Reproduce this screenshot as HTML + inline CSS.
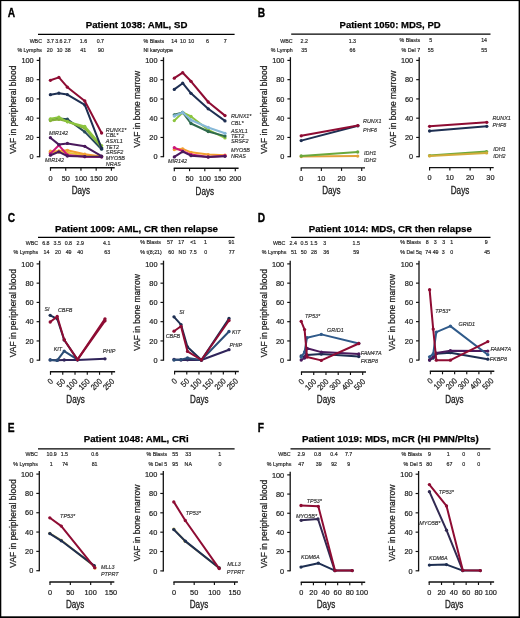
<!DOCTYPE html><html><head><meta charset="utf-8"><style>html,body{margin:0;padding:0;background:#fff;}svg{display:block;filter:blur(0.3px);}text{font-family:"Liberation Sans",sans-serif;}</style></head><body>
<svg width="520" height="618" viewBox="0 0 520 618">
<rect x="0" y="0" width="520" height="618" fill="#000"/>
<rect x="1.3" y="1.1" width="517.3" height="615.2" fill="#fff"/>
<text x="7.8" y="16.6" font-size="12" font-weight="bold" fill="#000" stroke="#000" stroke-width="0.35" textLength="7.37" lengthAdjust="spacingAndGlyphs">A</text>
<text x="136.6" y="27.7" font-size="9.9" text-anchor="middle" font-weight="bold" fill="#000" stroke="#000" stroke-width="0.25" textLength="101.6" lengthAdjust="spacingAndGlyphs">Patient 1038: AML, SD</text>
<line x1="38" y1="34.3" x2="234.6" y2="34.3" stroke="#000" stroke-width="1.2"/>
<text x="257.8" y="16.8" font-size="12" font-weight="bold" fill="#000" stroke="#000" stroke-width="0.35" textLength="7.37" lengthAdjust="spacingAndGlyphs">B</text>
<text x="390.1" y="27.6" font-size="9.9" text-anchor="middle" font-weight="bold" fill="#000" stroke="#000" stroke-width="0.25" textLength="101.1" lengthAdjust="spacingAndGlyphs">Patient 1050: MDS, PD</text>
<line x1="291.2" y1="34.2" x2="490.5" y2="34.2" stroke="#000" stroke-width="1.2"/>
<text x="7.8" y="221.7" font-size="12" font-weight="bold" fill="#000" stroke="#000" stroke-width="0.35" textLength="7.37" lengthAdjust="spacingAndGlyphs">C</text>
<text x="136.5" y="232.4" font-size="9.9" text-anchor="middle" font-weight="bold" fill="#000" stroke="#000" stroke-width="0.25" textLength="163" lengthAdjust="spacingAndGlyphs">Patient 1009: AML, CR then relapse</text>
<line x1="38" y1="237.4" x2="234.6" y2="237.4" stroke="#000" stroke-width="1.2"/>
<text x="257.8" y="221.7" font-size="12" font-weight="bold" fill="#000" stroke="#000" stroke-width="0.35" textLength="7.37" lengthAdjust="spacingAndGlyphs">D</text>
<text x="390.3" y="232.4" font-size="9.9" text-anchor="middle" font-weight="bold" fill="#000" stroke="#000" stroke-width="0.25" textLength="163.1" lengthAdjust="spacingAndGlyphs">Patient 1014: MDS, CR then relapse</text>
<line x1="291.2" y1="237.4" x2="490.5" y2="237.4" stroke="#000" stroke-width="1.2"/>
<text x="7.8" y="432" font-size="12" font-weight="bold" fill="#000" stroke="#000" stroke-width="0.35" textLength="6.8" lengthAdjust="spacingAndGlyphs">E</text>
<text x="136.2" y="441.9" font-size="9.9" text-anchor="middle" font-weight="bold" fill="#000" stroke="#000" stroke-width="0.25" textLength="104.8" lengthAdjust="spacingAndGlyphs">Patient 1048: AML, CRi</text>
<line x1="38" y1="448.8" x2="234.6" y2="448.8" stroke="#000" stroke-width="1.2"/>
<text x="257.8" y="432" font-size="12" font-weight="bold" fill="#000" stroke="#000" stroke-width="0.35" textLength="6.23" lengthAdjust="spacingAndGlyphs">F</text>
<text x="390.4" y="441.9" font-size="9.9" text-anchor="middle" font-weight="bold" fill="#000" stroke="#000" stroke-width="0.25" textLength="176.7" lengthAdjust="spacingAndGlyphs">Patient 1019: MDS, mCR (HI PMN/Plts)</text>
<line x1="290.5" y1="448.8" x2="490.5" y2="448.8" stroke="#000" stroke-width="1.2"/>
<text x="42" y="42.5" font-size="5.75" text-anchor="end" fill="#2a2a2a" stroke="#2a2a2a" stroke-width="0.2" textLength="12.36" lengthAdjust="spacingAndGlyphs">WBC</text>
<text x="42" y="51.6" font-size="5.75" text-anchor="end" fill="#2a2a2a" stroke="#2a2a2a" stroke-width="0.2" textLength="24.55" lengthAdjust="spacingAndGlyphs">% Lymphs</text>
<text x="50.4" y="42.5" font-size="5.75" text-anchor="middle" fill="#2a2a2a" stroke="#2a2a2a" stroke-width="0.2" textLength="7.37" lengthAdjust="spacingAndGlyphs">3.7</text>
<text x="58.9" y="42.5" font-size="5.75" text-anchor="middle" fill="#2a2a2a" stroke="#2a2a2a" stroke-width="0.2" textLength="7.37" lengthAdjust="spacingAndGlyphs">3.6</text>
<text x="67.4" y="42.5" font-size="5.75" text-anchor="middle" fill="#2a2a2a" stroke="#2a2a2a" stroke-width="0.2" textLength="7.37" lengthAdjust="spacingAndGlyphs">2.7</text>
<text x="83.5" y="42.5" font-size="5.75" text-anchor="middle" fill="#2a2a2a" stroke="#2a2a2a" stroke-width="0.2" textLength="7.37" lengthAdjust="spacingAndGlyphs">1.6</text>
<text x="100.4" y="42.5" font-size="5.75" text-anchor="middle" fill="#2a2a2a" stroke="#2a2a2a" stroke-width="0.2" textLength="7.37" lengthAdjust="spacingAndGlyphs">0.7</text>
<text x="49.8" y="51.6" font-size="5.75" text-anchor="middle" fill="#2a2a2a" stroke="#2a2a2a" stroke-width="0.2" textLength="5.9" lengthAdjust="spacingAndGlyphs">20</text>
<text x="59.6" y="51.6" font-size="5.75" text-anchor="middle" fill="#2a2a2a" stroke="#2a2a2a" stroke-width="0.2" textLength="5.9" lengthAdjust="spacingAndGlyphs">10</text>
<text x="67.8" y="51.6" font-size="5.75" text-anchor="middle" fill="#2a2a2a" stroke="#2a2a2a" stroke-width="0.2" textLength="5.9" lengthAdjust="spacingAndGlyphs">38</text>
<text x="83.2" y="51.6" font-size="5.75" text-anchor="middle" fill="#2a2a2a" stroke="#2a2a2a" stroke-width="0.2" textLength="5.9" lengthAdjust="spacingAndGlyphs">41</text>
<text x="101" y="51.6" font-size="5.75" text-anchor="middle" fill="#2a2a2a" stroke="#2a2a2a" stroke-width="0.2" textLength="5.9" lengthAdjust="spacingAndGlyphs">90</text>
<text x="143.5" y="42.5" font-size="5.75" fill="#2a2a2a" stroke="#2a2a2a" stroke-width="0.2" textLength="20.62" lengthAdjust="spacingAndGlyphs">% Blasts</text>
<text x="143.5" y="51.7" font-size="5.75" fill="#2a2a2a" stroke="#2a2a2a" stroke-width="0.2" textLength="29.46" lengthAdjust="spacingAndGlyphs">Nl karyotype</text>
<text x="174.3" y="42.5" font-size="5.75" text-anchor="middle" fill="#2a2a2a" stroke="#2a2a2a" stroke-width="0.2" textLength="5.9" lengthAdjust="spacingAndGlyphs">14</text>
<text x="182.9" y="42.5" font-size="5.75" text-anchor="middle" fill="#2a2a2a" stroke="#2a2a2a" stroke-width="0.2" textLength="5.9" lengthAdjust="spacingAndGlyphs">10</text>
<text x="191.2" y="42.5" font-size="5.75" text-anchor="middle" fill="#2a2a2a" stroke="#2a2a2a" stroke-width="0.2" textLength="5.9" lengthAdjust="spacingAndGlyphs">10</text>
<text x="207.4" y="42.5" font-size="5.75" text-anchor="middle" fill="#2a2a2a" stroke="#2a2a2a" stroke-width="0.2" textLength="2.95" lengthAdjust="spacingAndGlyphs">6</text>
<text x="225.1" y="42.5" font-size="5.75" text-anchor="middle" fill="#2a2a2a" stroke="#2a2a2a" stroke-width="0.2" textLength="2.95" lengthAdjust="spacingAndGlyphs">7</text>
<text x="292.7" y="42.5" font-size="5.75" text-anchor="end" fill="#2a2a2a" stroke="#2a2a2a" stroke-width="0.2" textLength="12.36" lengthAdjust="spacingAndGlyphs">WBC</text>
<text x="292.7" y="51.9" font-size="5.75" text-anchor="end" fill="#2a2a2a" stroke="#2a2a2a" stroke-width="0.2" textLength="21.9" lengthAdjust="spacingAndGlyphs">% Lymph</text>
<text x="304.2" y="42.5" font-size="5.75" text-anchor="middle" fill="#2a2a2a" stroke="#2a2a2a" stroke-width="0.2" textLength="7.37" lengthAdjust="spacingAndGlyphs">2.2</text>
<text x="352.4" y="42.5" font-size="5.75" text-anchor="middle" fill="#2a2a2a" stroke="#2a2a2a" stroke-width="0.2" textLength="7.37" lengthAdjust="spacingAndGlyphs">1.3</text>
<text x="304.2" y="51.9" font-size="5.75" text-anchor="middle" fill="#2a2a2a" stroke="#2a2a2a" stroke-width="0.2" textLength="5.9" lengthAdjust="spacingAndGlyphs">35</text>
<text x="352.4" y="51.9" font-size="5.75" text-anchor="middle" fill="#2a2a2a" stroke="#2a2a2a" stroke-width="0.2" textLength="5.9" lengthAdjust="spacingAndGlyphs">66</text>
<text x="420.1" y="42.3" font-size="5.75" text-anchor="end" fill="#2a2a2a" stroke="#2a2a2a" stroke-width="0.2" textLength="20.62" lengthAdjust="spacingAndGlyphs">% Blasts</text>
<text x="420.1" y="51.9" font-size="5.75" text-anchor="end" fill="#2a2a2a" stroke="#2a2a2a" stroke-width="0.2" textLength="18.56" lengthAdjust="spacingAndGlyphs">% Del 7</text>
<text x="430.7" y="42.3" font-size="5.75" text-anchor="middle" fill="#2a2a2a" stroke="#2a2a2a" stroke-width="0.2" textLength="2.95" lengthAdjust="spacingAndGlyphs">5</text>
<text x="484.1" y="42.3" font-size="5.75" text-anchor="middle" fill="#2a2a2a" stroke="#2a2a2a" stroke-width="0.2" textLength="5.9" lengthAdjust="spacingAndGlyphs">14</text>
<text x="430.7" y="51.9" font-size="5.75" text-anchor="middle" fill="#2a2a2a" stroke="#2a2a2a" stroke-width="0.2" textLength="5.9" lengthAdjust="spacingAndGlyphs">55</text>
<text x="484.3" y="51.9" font-size="5.75" text-anchor="middle" fill="#2a2a2a" stroke="#2a2a2a" stroke-width="0.2" textLength="5.9" lengthAdjust="spacingAndGlyphs">55</text>
<text x="38.1" y="244.6" font-size="5.75" text-anchor="end" fill="#2a2a2a" stroke="#2a2a2a" stroke-width="0.2" textLength="12.36" lengthAdjust="spacingAndGlyphs">WBC</text>
<text x="38.1" y="254" font-size="5.75" text-anchor="end" fill="#2a2a2a" stroke="#2a2a2a" stroke-width="0.2" textLength="24.55" lengthAdjust="spacingAndGlyphs">% Lymphs</text>
<text x="45.9" y="244.6" font-size="5.75" text-anchor="middle" fill="#2a2a2a" stroke="#2a2a2a" stroke-width="0.2" textLength="7.37" lengthAdjust="spacingAndGlyphs">6.8</text>
<text x="57.2" y="244.6" font-size="5.75" text-anchor="middle" fill="#2a2a2a" stroke="#2a2a2a" stroke-width="0.2" textLength="7.37" lengthAdjust="spacingAndGlyphs">3.5</text>
<text x="68.4" y="244.6" font-size="5.75" text-anchor="middle" fill="#2a2a2a" stroke="#2a2a2a" stroke-width="0.2" textLength="7.37" lengthAdjust="spacingAndGlyphs">0.8</text>
<text x="80.3" y="244.6" font-size="5.75" text-anchor="middle" fill="#2a2a2a" stroke="#2a2a2a" stroke-width="0.2" textLength="7.37" lengthAdjust="spacingAndGlyphs">2.9</text>
<text x="106.7" y="244.6" font-size="5.75" text-anchor="middle" fill="#2a2a2a" stroke="#2a2a2a" stroke-width="0.2" textLength="7.37" lengthAdjust="spacingAndGlyphs">4.1</text>
<text x="46.4" y="254" font-size="5.75" text-anchor="middle" fill="#2a2a2a" stroke="#2a2a2a" stroke-width="0.2" textLength="5.9" lengthAdjust="spacingAndGlyphs">14</text>
<text x="57.9" y="254" font-size="5.75" text-anchor="middle" fill="#2a2a2a" stroke="#2a2a2a" stroke-width="0.2" textLength="5.9" lengthAdjust="spacingAndGlyphs">20</text>
<text x="68.6" y="254" font-size="5.75" text-anchor="middle" fill="#2a2a2a" stroke="#2a2a2a" stroke-width="0.2" textLength="5.9" lengthAdjust="spacingAndGlyphs">49</text>
<text x="80.2" y="254" font-size="5.75" text-anchor="middle" fill="#2a2a2a" stroke="#2a2a2a" stroke-width="0.2" textLength="5.9" lengthAdjust="spacingAndGlyphs">40</text>
<text x="107.3" y="254" font-size="5.75" text-anchor="middle" fill="#2a2a2a" stroke="#2a2a2a" stroke-width="0.2" textLength="5.9" lengthAdjust="spacingAndGlyphs">63</text>
<text x="140.3" y="244.4" font-size="5.75" fill="#2a2a2a" stroke="#2a2a2a" stroke-width="0.2" textLength="20.62" lengthAdjust="spacingAndGlyphs">% Blasts</text>
<text x="140.3" y="254.2" font-size="5.75" fill="#2a2a2a" stroke="#2a2a2a" stroke-width="0.2" textLength="21.5" lengthAdjust="spacingAndGlyphs">% t(8;21)</text>
<text x="169.9" y="244.4" font-size="5.75" text-anchor="middle" fill="#2a2a2a" stroke="#2a2a2a" stroke-width="0.2" textLength="5.9" lengthAdjust="spacingAndGlyphs">57</text>
<text x="181.2" y="244.4" font-size="5.75" text-anchor="middle" fill="#2a2a2a" stroke="#2a2a2a" stroke-width="0.2" textLength="5.9" lengthAdjust="spacingAndGlyphs">17</text>
<text x="193.3" y="244.4" font-size="5.75" text-anchor="middle" fill="#2a2a2a" stroke="#2a2a2a" stroke-width="0.2" textLength="6.04" lengthAdjust="spacingAndGlyphs">&lt;1</text>
<text x="205.4" y="244.4" font-size="5.75" text-anchor="middle" fill="#2a2a2a" stroke="#2a2a2a" stroke-width="0.2" textLength="2.95" lengthAdjust="spacingAndGlyphs">1</text>
<text x="231.5" y="244.4" font-size="5.75" text-anchor="middle" fill="#2a2a2a" stroke="#2a2a2a" stroke-width="0.2" textLength="5.9" lengthAdjust="spacingAndGlyphs">91</text>
<text x="171.2" y="254.2" font-size="5.75" text-anchor="middle" fill="#2a2a2a" stroke="#2a2a2a" stroke-width="0.2" textLength="5.9" lengthAdjust="spacingAndGlyphs">60</text>
<text x="182.4" y="254.2" font-size="5.75" text-anchor="middle" fill="#2a2a2a" stroke="#2a2a2a" stroke-width="0.2" textLength="7.66" lengthAdjust="spacingAndGlyphs">ND</text>
<text x="193.1" y="254.2" font-size="5.75" text-anchor="middle" fill="#2a2a2a" stroke="#2a2a2a" stroke-width="0.2" textLength="7.37" lengthAdjust="spacingAndGlyphs">7.5</text>
<text x="205.8" y="254.2" font-size="5.75" text-anchor="middle" fill="#2a2a2a" stroke="#2a2a2a" stroke-width="0.2" textLength="2.95" lengthAdjust="spacingAndGlyphs">0</text>
<text x="231.7" y="254.2" font-size="5.75" text-anchor="middle" fill="#2a2a2a" stroke="#2a2a2a" stroke-width="0.2" textLength="5.9" lengthAdjust="spacingAndGlyphs">77</text>
<text x="285.4" y="244.6" font-size="5.75" text-anchor="end" fill="#2a2a2a" stroke="#2a2a2a" stroke-width="0.2" textLength="12.36" lengthAdjust="spacingAndGlyphs">WBC</text>
<text x="286.4" y="254" font-size="5.75" text-anchor="end" fill="#2a2a2a" stroke="#2a2a2a" stroke-width="0.2" textLength="24.55" lengthAdjust="spacingAndGlyphs">% Lymphs</text>
<text x="293.3" y="244.6" font-size="5.75" text-anchor="middle" fill="#2a2a2a" stroke="#2a2a2a" stroke-width="0.2" textLength="7.37" lengthAdjust="spacingAndGlyphs">2.4</text>
<text x="304.2" y="244.6" font-size="5.75" text-anchor="middle" fill="#2a2a2a" stroke="#2a2a2a" stroke-width="0.2" textLength="7.37" lengthAdjust="spacingAndGlyphs">0.5</text>
<text x="313.9" y="244.6" font-size="5.75" text-anchor="middle" fill="#2a2a2a" stroke="#2a2a2a" stroke-width="0.2" textLength="7.37" lengthAdjust="spacingAndGlyphs">1.5</text>
<text x="324.8" y="244.6" font-size="5.75" text-anchor="middle" fill="#2a2a2a" stroke="#2a2a2a" stroke-width="0.2" textLength="2.95" lengthAdjust="spacingAndGlyphs">3</text>
<text x="356.2" y="244.6" font-size="5.75" text-anchor="middle" fill="#2a2a2a" stroke="#2a2a2a" stroke-width="0.2" textLength="7.37" lengthAdjust="spacingAndGlyphs">1.5</text>
<text x="293.9" y="254" font-size="5.75" text-anchor="middle" fill="#2a2a2a" stroke="#2a2a2a" stroke-width="0.2" textLength="5.9" lengthAdjust="spacingAndGlyphs">51</text>
<text x="303.8" y="254" font-size="5.75" text-anchor="middle" fill="#2a2a2a" stroke="#2a2a2a" stroke-width="0.2" textLength="5.9" lengthAdjust="spacingAndGlyphs">50</text>
<text x="313.9" y="254" font-size="5.75" text-anchor="middle" fill="#2a2a2a" stroke="#2a2a2a" stroke-width="0.2" textLength="5.9" lengthAdjust="spacingAndGlyphs">28</text>
<text x="326.2" y="254" font-size="5.75" text-anchor="middle" fill="#2a2a2a" stroke="#2a2a2a" stroke-width="0.2" textLength="5.9" lengthAdjust="spacingAndGlyphs">36</text>
<text x="356.2" y="254" font-size="5.75" text-anchor="middle" fill="#2a2a2a" stroke="#2a2a2a" stroke-width="0.2" textLength="5.9" lengthAdjust="spacingAndGlyphs">59</text>
<text x="400.3" y="244.4" font-size="5.75" fill="#2a2a2a" stroke="#2a2a2a" stroke-width="0.2" textLength="20.62" lengthAdjust="spacingAndGlyphs">% Blasts</text>
<text x="400.3" y="254.2" font-size="5.75" fill="#2a2a2a" stroke="#2a2a2a" stroke-width="0.2" textLength="21.51" lengthAdjust="spacingAndGlyphs">% Del 5q</text>
<text x="427.3" y="244.4" font-size="5.75" text-anchor="middle" fill="#2a2a2a" stroke="#2a2a2a" stroke-width="0.2" textLength="2.95" lengthAdjust="spacingAndGlyphs">8</text>
<text x="435.2" y="244.4" font-size="5.75" text-anchor="middle" fill="#2a2a2a" stroke="#2a2a2a" stroke-width="0.2" textLength="2.95" lengthAdjust="spacingAndGlyphs">3</text>
<text x="443.6" y="244.4" font-size="5.75" text-anchor="middle" fill="#2a2a2a" stroke="#2a2a2a" stroke-width="0.2" textLength="2.95" lengthAdjust="spacingAndGlyphs">3</text>
<text x="451.6" y="244.4" font-size="5.75" text-anchor="middle" fill="#2a2a2a" stroke="#2a2a2a" stroke-width="0.2" textLength="2.95" lengthAdjust="spacingAndGlyphs">1</text>
<text x="486.2" y="244.4" font-size="5.75" text-anchor="middle" fill="#2a2a2a" stroke="#2a2a2a" stroke-width="0.2" textLength="2.95" lengthAdjust="spacingAndGlyphs">9</text>
<text x="428.2" y="254.2" font-size="5.75" text-anchor="middle" fill="#2a2a2a" stroke="#2a2a2a" stroke-width="0.2" textLength="5.9" lengthAdjust="spacingAndGlyphs">74</text>
<text x="435.6" y="254.2" font-size="5.75" text-anchor="middle" fill="#2a2a2a" stroke="#2a2a2a" stroke-width="0.2" textLength="5.9" lengthAdjust="spacingAndGlyphs">49</text>
<text x="443.3" y="254.2" font-size="5.75" text-anchor="middle" fill="#2a2a2a" stroke="#2a2a2a" stroke-width="0.2" textLength="2.95" lengthAdjust="spacingAndGlyphs">3</text>
<text x="451.8" y="254.2" font-size="5.75" text-anchor="middle" fill="#2a2a2a" stroke="#2a2a2a" stroke-width="0.2" textLength="2.95" lengthAdjust="spacingAndGlyphs">0</text>
<text x="487.1" y="254.2" font-size="5.75" text-anchor="middle" fill="#2a2a2a" stroke="#2a2a2a" stroke-width="0.2" textLength="5.9" lengthAdjust="spacingAndGlyphs">45</text>
<text x="37.9" y="456.3" font-size="5.75" text-anchor="end" fill="#2a2a2a" stroke="#2a2a2a" stroke-width="0.2" textLength="12.36" lengthAdjust="spacingAndGlyphs">WBC</text>
<text x="37.9" y="465.8" font-size="5.75" text-anchor="end" fill="#2a2a2a" stroke="#2a2a2a" stroke-width="0.2" textLength="24.55" lengthAdjust="spacingAndGlyphs">% Lymphs</text>
<text x="51.6" y="456.3" font-size="5.75" text-anchor="middle" fill="#2a2a2a" stroke="#2a2a2a" stroke-width="0.2" textLength="10.32" lengthAdjust="spacingAndGlyphs">10.9</text>
<text x="64.4" y="456.3" font-size="5.75" text-anchor="middle" fill="#2a2a2a" stroke="#2a2a2a" stroke-width="0.2" textLength="7.37" lengthAdjust="spacingAndGlyphs">1.5</text>
<text x="94.9" y="456.3" font-size="5.75" text-anchor="middle" fill="#2a2a2a" stroke="#2a2a2a" stroke-width="0.2" textLength="7.37" lengthAdjust="spacingAndGlyphs">0.6</text>
<text x="51.2" y="465.8" font-size="5.75" text-anchor="middle" fill="#2a2a2a" stroke="#2a2a2a" stroke-width="0.2" textLength="2.95" lengthAdjust="spacingAndGlyphs">1</text>
<text x="65.1" y="465.8" font-size="5.75" text-anchor="middle" fill="#2a2a2a" stroke="#2a2a2a" stroke-width="0.2" textLength="5.9" lengthAdjust="spacingAndGlyphs">74</text>
<text x="94.6" y="465.8" font-size="5.75" text-anchor="middle" fill="#2a2a2a" stroke="#2a2a2a" stroke-width="0.2" textLength="5.9" lengthAdjust="spacingAndGlyphs">81</text>
<text x="167.1" y="456.1" font-size="5.75" text-anchor="end" fill="#2a2a2a" stroke="#2a2a2a" stroke-width="0.2" textLength="20.62" lengthAdjust="spacingAndGlyphs">% Blasts</text>
<text x="167.1" y="465.8" font-size="5.75" text-anchor="end" fill="#2a2a2a" stroke="#2a2a2a" stroke-width="0.2" textLength="18.56" lengthAdjust="spacingAndGlyphs">% Del 5</text>
<text x="175.3" y="456.1" font-size="5.75" text-anchor="middle" fill="#2a2a2a" stroke="#2a2a2a" stroke-width="0.2" textLength="5.9" lengthAdjust="spacingAndGlyphs">55</text>
<text x="188.3" y="456.1" font-size="5.75" text-anchor="middle" fill="#2a2a2a" stroke="#2a2a2a" stroke-width="0.2" textLength="5.9" lengthAdjust="spacingAndGlyphs">33</text>
<text x="219.6" y="456.1" font-size="5.75" text-anchor="middle" fill="#2a2a2a" stroke="#2a2a2a" stroke-width="0.2" textLength="2.95" lengthAdjust="spacingAndGlyphs">1</text>
<text x="175.3" y="465.8" font-size="5.75" text-anchor="middle" fill="#2a2a2a" stroke="#2a2a2a" stroke-width="0.2" textLength="5.9" lengthAdjust="spacingAndGlyphs">95</text>
<text x="188.3" y="465.8" font-size="5.75" text-anchor="middle" fill="#2a2a2a" stroke="#2a2a2a" stroke-width="0.2" textLength="7.36" lengthAdjust="spacingAndGlyphs">NA</text>
<text x="220" y="465.8" font-size="5.75" text-anchor="middle" fill="#2a2a2a" stroke="#2a2a2a" stroke-width="0.2" textLength="2.95" lengthAdjust="spacingAndGlyphs">0</text>
<text x="290.7" y="456.1" font-size="5.75" text-anchor="end" fill="#2a2a2a" stroke="#2a2a2a" stroke-width="0.2" textLength="12.36" lengthAdjust="spacingAndGlyphs">WBC</text>
<text x="291.3" y="465.8" font-size="5.75" text-anchor="end" fill="#2a2a2a" stroke="#2a2a2a" stroke-width="0.2" textLength="24.55" lengthAdjust="spacingAndGlyphs">% Lymphs</text>
<text x="301.2" y="456.1" font-size="5.75" text-anchor="middle" fill="#2a2a2a" stroke="#2a2a2a" stroke-width="0.2" textLength="7.37" lengthAdjust="spacingAndGlyphs">2.9</text>
<text x="317.6" y="456.1" font-size="5.75" text-anchor="middle" fill="#2a2a2a" stroke="#2a2a2a" stroke-width="0.2" textLength="7.37" lengthAdjust="spacingAndGlyphs">0.8</text>
<text x="334" y="456.1" font-size="5.75" text-anchor="middle" fill="#2a2a2a" stroke="#2a2a2a" stroke-width="0.2" textLength="7.37" lengthAdjust="spacingAndGlyphs">0.4</text>
<text x="348.6" y="456.1" font-size="5.75" text-anchor="middle" fill="#2a2a2a" stroke="#2a2a2a" stroke-width="0.2" textLength="7.37" lengthAdjust="spacingAndGlyphs">7.7</text>
<text x="301.2" y="465.8" font-size="5.75" text-anchor="middle" fill="#2a2a2a" stroke="#2a2a2a" stroke-width="0.2" textLength="5.9" lengthAdjust="spacingAndGlyphs">47</text>
<text x="318.7" y="465.8" font-size="5.75" text-anchor="middle" fill="#2a2a2a" stroke="#2a2a2a" stroke-width="0.2" textLength="5.9" lengthAdjust="spacingAndGlyphs">39</text>
<text x="334.1" y="465.8" font-size="5.75" text-anchor="middle" fill="#2a2a2a" stroke="#2a2a2a" stroke-width="0.2" textLength="5.9" lengthAdjust="spacingAndGlyphs">92</text>
<text x="348.6" y="465.8" font-size="5.75" text-anchor="middle" fill="#2a2a2a" stroke="#2a2a2a" stroke-width="0.2" textLength="2.95" lengthAdjust="spacingAndGlyphs">9</text>
<text x="422.1" y="456.1" font-size="5.75" text-anchor="end" fill="#2a2a2a" stroke="#2a2a2a" stroke-width="0.2" textLength="20.62" lengthAdjust="spacingAndGlyphs">% Blasts</text>
<text x="422.1" y="465.8" font-size="5.75" text-anchor="end" fill="#2a2a2a" stroke="#2a2a2a" stroke-width="0.2" textLength="18.56" lengthAdjust="spacingAndGlyphs">% Del 5</text>
<text x="429.4" y="456.1" font-size="5.75" text-anchor="middle" fill="#2a2a2a" stroke="#2a2a2a" stroke-width="0.2" textLength="2.95" lengthAdjust="spacingAndGlyphs">9</text>
<text x="448.2" y="456.1" font-size="5.75" text-anchor="middle" fill="#2a2a2a" stroke="#2a2a2a" stroke-width="0.2" textLength="2.95" lengthAdjust="spacingAndGlyphs">1</text>
<text x="463.6" y="456.1" font-size="5.75" text-anchor="middle" fill="#2a2a2a" stroke="#2a2a2a" stroke-width="0.2" textLength="2.95" lengthAdjust="spacingAndGlyphs">0</text>
<text x="478.7" y="456.1" font-size="5.75" text-anchor="middle" fill="#2a2a2a" stroke="#2a2a2a" stroke-width="0.2" textLength="2.95" lengthAdjust="spacingAndGlyphs">0</text>
<text x="429.2" y="465.8" font-size="5.75" text-anchor="middle" fill="#2a2a2a" stroke="#2a2a2a" stroke-width="0.2" textLength="5.9" lengthAdjust="spacingAndGlyphs">80</text>
<text x="449.4" y="465.8" font-size="5.75" text-anchor="middle" fill="#2a2a2a" stroke="#2a2a2a" stroke-width="0.2" textLength="5.9" lengthAdjust="spacingAndGlyphs">67</text>
<text x="463.6" y="465.8" font-size="5.75" text-anchor="middle" fill="#2a2a2a" stroke="#2a2a2a" stroke-width="0.2" textLength="2.95" lengthAdjust="spacingAndGlyphs">0</text>
<text x="478.7" y="465.8" font-size="5.75" text-anchor="middle" fill="#2a2a2a" stroke="#2a2a2a" stroke-width="0.2" textLength="2.95" lengthAdjust="spacingAndGlyphs">0</text>
<line x1="39.7" y1="57.2" x2="39.7" y2="157.2" stroke="#111" stroke-width="1.3"/>
<line x1="36.7" y1="156.7" x2="39.7" y2="156.7" stroke="#111" stroke-width="1.15"/>
<text x="33.7" y="159.4" font-size="8" text-anchor="end" fill="#222" stroke="#222" stroke-width="0.22" textLength="4.09" lengthAdjust="spacingAndGlyphs">0</text>
<line x1="36.7" y1="137.44" x2="39.7" y2="137.44" stroke="#111" stroke-width="1.15"/>
<text x="33.7" y="140.14" font-size="8" text-anchor="end" fill="#222" stroke="#222" stroke-width="0.22" textLength="8.18" lengthAdjust="spacingAndGlyphs">20</text>
<line x1="36.7" y1="118.18" x2="39.7" y2="118.18" stroke="#111" stroke-width="1.15"/>
<text x="33.7" y="120.88" font-size="8" text-anchor="end" fill="#222" stroke="#222" stroke-width="0.22" textLength="8.18" lengthAdjust="spacingAndGlyphs">40</text>
<line x1="36.7" y1="98.92" x2="39.7" y2="98.92" stroke="#111" stroke-width="1.15"/>
<text x="33.7" y="101.62" font-size="8" text-anchor="end" fill="#222" stroke="#222" stroke-width="0.22" textLength="8.18" lengthAdjust="spacingAndGlyphs">60</text>
<line x1="36.7" y1="79.66" x2="39.7" y2="79.66" stroke="#111" stroke-width="1.15"/>
<text x="33.7" y="82.36" font-size="8" text-anchor="end" fill="#222" stroke="#222" stroke-width="0.22" textLength="8.18" lengthAdjust="spacingAndGlyphs">80</text>
<line x1="36.7" y1="60.4" x2="39.7" y2="60.4" stroke="#111" stroke-width="1.15"/>
<text x="33.7" y="63.1" font-size="8" text-anchor="end" fill="#222" stroke="#222" stroke-width="0.22" textLength="12.26" lengthAdjust="spacingAndGlyphs">100</text>
<text x="0" y="0" font-size="9.9" text-anchor="middle" fill="#222" stroke="#222" stroke-width="0.25" textLength="88.3" lengthAdjust="spacingAndGlyphs" transform="translate(16,109.65) rotate(-90)">VAF in peripheral blood</text>
<line x1="49.9" y1="167.8" x2="114.7" y2="167.8" stroke="#111" stroke-width="1.4"/>
<line x1="50.5" y1="167.8" x2="50.5" y2="170.8" stroke="#111" stroke-width="1.15"/>
<text x="50.5" y="180.6" font-size="8" text-anchor="middle" fill="#222" stroke="#222" stroke-width="0.22" textLength="4.09" lengthAdjust="spacingAndGlyphs">0</text>
<line x1="65.72" y1="167.8" x2="65.72" y2="170.8" stroke="#111" stroke-width="1.15"/>
<text x="65.72" y="180.6" font-size="8" text-anchor="middle" fill="#222" stroke="#222" stroke-width="0.22" textLength="8.18" lengthAdjust="spacingAndGlyphs">50</text>
<line x1="80.95" y1="167.8" x2="80.95" y2="170.8" stroke="#111" stroke-width="1.15"/>
<text x="80.95" y="180.6" font-size="8" text-anchor="middle" fill="#222" stroke="#222" stroke-width="0.22" textLength="12.26" lengthAdjust="spacingAndGlyphs">100</text>
<line x1="96.18" y1="167.8" x2="96.18" y2="170.8" stroke="#111" stroke-width="1.15"/>
<text x="96.18" y="180.6" font-size="8" text-anchor="middle" fill="#222" stroke="#222" stroke-width="0.22" textLength="12.26" lengthAdjust="spacingAndGlyphs">150</text>
<line x1="111.4" y1="167.8" x2="111.4" y2="170.8" stroke="#111" stroke-width="1.15"/>
<text x="111.4" y="180.6" font-size="8" text-anchor="middle" fill="#222" stroke="#222" stroke-width="0.22" textLength="12.26" lengthAdjust="spacingAndGlyphs">200</text>
<text x="80.95" y="194.3" font-size="10.2" text-anchor="middle" fill="#222" stroke="#222" stroke-width="0.3" textLength="18.5" lengthAdjust="spacingAndGlyphs">Days</text>
<polyline points="50.4,152.6 58.9,152 67.4,152.8 84.8,155.2 101.6,156.6" fill="none" stroke="#e5c43a" stroke-width="2" stroke-linejoin="round" stroke-linecap="round"/>
<circle cx="50.4" cy="152.6" r="1.65" fill="#e5c43a"/>
<circle cx="58.9" cy="152" r="1.65" fill="#e5c43a"/>
<circle cx="67.4" cy="152.8" r="1.65" fill="#e5c43a"/>
<circle cx="84.8" cy="155.2" r="1.65" fill="#e5c43a"/>
<circle cx="101.6" cy="156.6" r="1.65" fill="#e5c43a"/>
<polyline points="50.4,151.2 58.9,151 67.4,150.3 84.8,154.2 101.6,156.4" fill="none" stroke="#f2a032" stroke-width="2" stroke-linejoin="round" stroke-linecap="round"/>
<circle cx="50.4" cy="151.2" r="1.65" fill="#f2a032"/>
<circle cx="58.9" cy="151" r="1.65" fill="#f2a032"/>
<circle cx="67.4" cy="150.3" r="1.65" fill="#f2a032"/>
<circle cx="84.8" cy="154.2" r="1.65" fill="#f2a032"/>
<circle cx="101.6" cy="156.4" r="1.65" fill="#f2a032"/>
<polyline points="50.4,153.6 58.9,145.3 67.4,155 84.8,156.7 101.6,156.9" fill="none" stroke="#cc1878" stroke-width="2" stroke-linejoin="round" stroke-linecap="round"/>
<circle cx="50.4" cy="153.6" r="1.65" fill="#cc1878"/>
<circle cx="58.9" cy="145.3" r="1.65" fill="#cc1878"/>
<circle cx="67.4" cy="155" r="1.65" fill="#cc1878"/>
<circle cx="84.8" cy="156.7" r="1.65" fill="#cc1878"/>
<circle cx="101.6" cy="156.9" r="1.65" fill="#cc1878"/>
<polyline points="50.4,155.2 58.9,151.8 67.4,156 84.8,156.6 101.6,156.8" fill="none" stroke="#4a1a5c" stroke-width="2" stroke-linejoin="round" stroke-linecap="round"/>
<circle cx="50.4" cy="155.2" r="1.65" fill="#4a1a5c"/>
<circle cx="58.9" cy="151.8" r="1.65" fill="#4a1a5c"/>
<circle cx="67.4" cy="156" r="1.65" fill="#4a1a5c"/>
<circle cx="84.8" cy="156.6" r="1.65" fill="#4a1a5c"/>
<circle cx="101.6" cy="156.8" r="1.65" fill="#4a1a5c"/>
<polyline points="50.4,137.7 58.9,144.6 67.4,143.4 84.8,146.3 101.6,156.1" fill="none" stroke="#4a1a5c" stroke-width="2" stroke-linejoin="round" stroke-linecap="round"/>
<circle cx="50.4" cy="137.7" r="1.65" fill="#4a1a5c"/>
<circle cx="58.9" cy="144.6" r="1.65" fill="#4a1a5c"/>
<circle cx="67.4" cy="143.4" r="1.65" fill="#4a1a5c"/>
<circle cx="84.8" cy="146.3" r="1.65" fill="#4a1a5c"/>
<circle cx="101.6" cy="156.1" r="1.65" fill="#4a1a5c"/>
<polyline points="50.4,119.6 58.9,118.4 67.4,119.2 84.8,131.9 101.6,149.2" fill="none" stroke="#274a5a" stroke-width="2" stroke-linejoin="round" stroke-linecap="round"/>
<circle cx="50.4" cy="119.6" r="1.65" fill="#274a5a"/>
<circle cx="58.9" cy="118.4" r="1.65" fill="#274a5a"/>
<circle cx="67.4" cy="119.2" r="1.65" fill="#274a5a"/>
<circle cx="84.8" cy="131.9" r="1.65" fill="#274a5a"/>
<circle cx="101.6" cy="149.2" r="1.65" fill="#274a5a"/>
<polyline points="50.4,120.6 58.9,119.4 67.4,121.5 84.8,128.2 101.6,147.3" fill="none" stroke="#86b23a" stroke-width="2" stroke-linejoin="round" stroke-linecap="round"/>
<circle cx="50.4" cy="120.6" r="1.65" fill="#86b23a"/>
<circle cx="58.9" cy="119.4" r="1.65" fill="#86b23a"/>
<circle cx="67.4" cy="121.5" r="1.65" fill="#86b23a"/>
<circle cx="84.8" cy="128.2" r="1.65" fill="#86b23a"/>
<circle cx="101.6" cy="147.3" r="1.65" fill="#86b23a"/>
<polyline points="50.4,118.8 58.9,117.2 67.4,121.8 84.8,126.5 101.6,145.6" fill="none" stroke="#8cc43f" stroke-width="2" stroke-linejoin="round" stroke-linecap="round"/>
<circle cx="50.4" cy="118.8" r="1.65" fill="#8cc43f"/>
<circle cx="58.9" cy="117.2" r="1.65" fill="#8cc43f"/>
<circle cx="67.4" cy="121.8" r="1.65" fill="#8cc43f"/>
<circle cx="84.8" cy="126.5" r="1.65" fill="#8cc43f"/>
<circle cx="101.6" cy="145.6" r="1.65" fill="#8cc43f"/>
<polyline points="50.4,94.7 58.9,93.2 67.4,94.6 84.8,104.9 101.6,148.4" fill="none" stroke="#1e2f52" stroke-width="2" stroke-linejoin="round" stroke-linecap="round"/>
<circle cx="50.4" cy="94.7" r="1.65" fill="#1e2f52"/>
<circle cx="58.9" cy="93.2" r="1.65" fill="#1e2f52"/>
<circle cx="67.4" cy="94.6" r="1.65" fill="#1e2f52"/>
<circle cx="84.8" cy="104.9" r="1.65" fill="#1e2f52"/>
<circle cx="101.6" cy="148.4" r="1.65" fill="#1e2f52"/>
<polyline points="50.4,80.3 58.9,77.4 67.4,87.2 84.8,101 101.6,133" fill="none" stroke="#8e0c33" stroke-width="2" stroke-linejoin="round" stroke-linecap="round"/>
<circle cx="50.4" cy="80.3" r="1.65" fill="#8e0c33"/>
<circle cx="58.9" cy="77.4" r="1.65" fill="#8e0c33"/>
<circle cx="67.4" cy="87.2" r="1.65" fill="#8e0c33"/>
<circle cx="84.8" cy="101" r="1.65" fill="#8e0c33"/>
<circle cx="101.6" cy="133" r="1.65" fill="#8e0c33"/>
<text x="105.8" y="131.5" font-size="5.45" font-style="italic" fill="#333" stroke="#333" stroke-width="0.16">RUNX1*</text>
<text x="105.8" y="137.3" font-size="5.45" font-style="italic" fill="#333" stroke="#333" stroke-width="0.16">CBL*</text>
<text x="105.8" y="142.9" font-size="5.45" font-style="italic" fill="#333" stroke="#333" stroke-width="0.16">ASXL1</text>
<text x="105.8" y="148.5" font-size="5.45" font-style="italic" fill="#333" stroke="#333" stroke-width="0.16">TET2</text>
<text x="105.8" y="154.4" font-size="5.45" font-style="italic" fill="#333" stroke="#333" stroke-width="0.16">SRSF2</text>
<text x="105.8" y="160" font-size="5.45" font-style="italic" fill="#333" stroke="#333" stroke-width="0.16">MYO5B</text>
<text x="105.8" y="165.5" font-size="5.45" font-style="italic" fill="#333" stroke="#333" stroke-width="0.16">NRAS</text>
<text x="49" y="134.5" font-size="5.45" font-style="italic" fill="#333" stroke="#333" stroke-width="0.16">MIR142</text>
<text x="45.1" y="161.5" font-size="5.45" font-style="italic" fill="#333" stroke="#333" stroke-width="0.16">MIR142</text>
<line x1="163.5" y1="57.3" x2="163.5" y2="157.2" stroke="#111" stroke-width="1.3"/>
<line x1="160.5" y1="156.7" x2="163.5" y2="156.7" stroke="#111" stroke-width="1.15"/>
<text x="157.5" y="159.4" font-size="8" text-anchor="end" fill="#222" stroke="#222" stroke-width="0.22" textLength="4.09" lengthAdjust="spacingAndGlyphs">0</text>
<line x1="160.5" y1="137.46" x2="163.5" y2="137.46" stroke="#111" stroke-width="1.15"/>
<text x="157.5" y="140.16" font-size="8" text-anchor="end" fill="#222" stroke="#222" stroke-width="0.22" textLength="8.18" lengthAdjust="spacingAndGlyphs">20</text>
<line x1="160.5" y1="118.22" x2="163.5" y2="118.22" stroke="#111" stroke-width="1.15"/>
<text x="157.5" y="120.92" font-size="8" text-anchor="end" fill="#222" stroke="#222" stroke-width="0.22" textLength="8.18" lengthAdjust="spacingAndGlyphs">40</text>
<line x1="160.5" y1="98.98" x2="163.5" y2="98.98" stroke="#111" stroke-width="1.15"/>
<text x="157.5" y="101.68" font-size="8" text-anchor="end" fill="#222" stroke="#222" stroke-width="0.22" textLength="8.18" lengthAdjust="spacingAndGlyphs">60</text>
<line x1="160.5" y1="79.74" x2="163.5" y2="79.74" stroke="#111" stroke-width="1.15"/>
<text x="157.5" y="82.44" font-size="8" text-anchor="end" fill="#222" stroke="#222" stroke-width="0.22" textLength="8.18" lengthAdjust="spacingAndGlyphs">80</text>
<line x1="160.5" y1="60.5" x2="163.5" y2="60.5" stroke="#111" stroke-width="1.15"/>
<text x="157.5" y="63.2" font-size="8" text-anchor="end" fill="#222" stroke="#222" stroke-width="0.22" textLength="12.26" lengthAdjust="spacingAndGlyphs">100</text>
<text x="0" y="0" font-size="9.9" text-anchor="middle" fill="#222" stroke="#222" stroke-width="0.25" textLength="76.6" lengthAdjust="spacingAndGlyphs" transform="translate(139.8,109.1) rotate(-90)">VAF in bone marrow</text>
<line x1="173.7" y1="168.2" x2="238.6" y2="168.2" stroke="#111" stroke-width="1.4"/>
<line x1="174.3" y1="168.2" x2="174.3" y2="171.2" stroke="#111" stroke-width="1.15"/>
<text x="174.3" y="181" font-size="8" text-anchor="middle" fill="#222" stroke="#222" stroke-width="0.22" textLength="4.09" lengthAdjust="spacingAndGlyphs">0</text>
<line x1="189.55" y1="168.2" x2="189.55" y2="171.2" stroke="#111" stroke-width="1.15"/>
<text x="189.55" y="181" font-size="8" text-anchor="middle" fill="#222" stroke="#222" stroke-width="0.22" textLength="8.18" lengthAdjust="spacingAndGlyphs">50</text>
<line x1="204.8" y1="168.2" x2="204.8" y2="171.2" stroke="#111" stroke-width="1.15"/>
<text x="204.8" y="181" font-size="8" text-anchor="middle" fill="#222" stroke="#222" stroke-width="0.22" textLength="12.26" lengthAdjust="spacingAndGlyphs">100</text>
<line x1="220.05" y1="168.2" x2="220.05" y2="171.2" stroke="#111" stroke-width="1.15"/>
<text x="220.05" y="181" font-size="8" text-anchor="middle" fill="#222" stroke="#222" stroke-width="0.22" textLength="12.26" lengthAdjust="spacingAndGlyphs">150</text>
<line x1="235.3" y1="168.2" x2="235.3" y2="171.2" stroke="#111" stroke-width="1.15"/>
<text x="235.3" y="181" font-size="8" text-anchor="middle" fill="#222" stroke="#222" stroke-width="0.22" textLength="12.26" lengthAdjust="spacingAndGlyphs">200</text>
<text x="204.8" y="194.7" font-size="10.2" text-anchor="middle" fill="#222" stroke="#222" stroke-width="0.3" textLength="18.5" lengthAdjust="spacingAndGlyphs">Days</text>
<polyline points="174.3,149.5 182.7,148.8 191,152.3 208.2,154.6 225,155.2" fill="none" stroke="#f2a032" stroke-width="2" stroke-linejoin="round" stroke-linecap="round"/>
<circle cx="174.3" cy="149.5" r="1.65" fill="#f2a032"/>
<circle cx="182.7" cy="148.8" r="1.65" fill="#f2a032"/>
<circle cx="191" cy="152.3" r="1.65" fill="#f2a032"/>
<circle cx="208.2" cy="154.6" r="1.65" fill="#f2a032"/>
<circle cx="225" cy="155.2" r="1.65" fill="#f2a032"/>
<polyline points="174.3,147.7 182.7,151.1 191,154.6 208.2,156.9 225,155.7" fill="none" stroke="#cc1878" stroke-width="2" stroke-linejoin="round" stroke-linecap="round"/>
<circle cx="174.3" cy="147.7" r="1.65" fill="#cc1878"/>
<circle cx="182.7" cy="151.1" r="1.65" fill="#cc1878"/>
<circle cx="191" cy="154.6" r="1.65" fill="#cc1878"/>
<circle cx="208.2" cy="156.9" r="1.65" fill="#cc1878"/>
<circle cx="225" cy="155.7" r="1.65" fill="#cc1878"/>
<polyline points="174.3,156.9 182.7,151.7 191,155.7 208.2,157.1 225,156.3" fill="none" stroke="#4a1a5c" stroke-width="2" stroke-linejoin="round" stroke-linecap="round"/>
<circle cx="174.3" cy="156.9" r="1.65" fill="#4a1a5c"/>
<circle cx="182.7" cy="151.7" r="1.65" fill="#4a1a5c"/>
<circle cx="191" cy="155.7" r="1.65" fill="#4a1a5c"/>
<circle cx="208.2" cy="157.1" r="1.65" fill="#4a1a5c"/>
<circle cx="225" cy="156.3" r="1.65" fill="#4a1a5c"/>
<polyline points="174.3,120.6 182.7,112.5 191,116.5 208.2,129.8 225,137.9" fill="none" stroke="#8cc43f" stroke-width="2" stroke-linejoin="round" stroke-linecap="round"/>
<circle cx="174.3" cy="120.6" r="1.65" fill="#8cc43f"/>
<circle cx="182.7" cy="112.5" r="1.65" fill="#8cc43f"/>
<circle cx="191" cy="116.5" r="1.65" fill="#8cc43f"/>
<circle cx="208.2" cy="129.8" r="1.65" fill="#8cc43f"/>
<circle cx="225" cy="137.9" r="1.65" fill="#8cc43f"/>
<polyline points="174.3,114.8 182.7,112.5 191,123.5 208.2,131.5 225,136.1" fill="none" stroke="#2f6a4c" stroke-width="2" stroke-linejoin="round" stroke-linecap="round"/>
<circle cx="174.3" cy="114.8" r="1.65" fill="#2f6a4c"/>
<circle cx="182.7" cy="112.5" r="1.65" fill="#2f6a4c"/>
<circle cx="191" cy="123.5" r="1.65" fill="#2f6a4c"/>
<circle cx="208.2" cy="131.5" r="1.65" fill="#2f6a4c"/>
<circle cx="225" cy="136.1" r="1.65" fill="#2f6a4c"/>
<polyline points="174.3,116 182.7,112.5 191,120 208.2,127.5 225,133.3" fill="none" stroke="#86b8d8" stroke-width="2" stroke-linejoin="round" stroke-linecap="round"/>
<circle cx="174.3" cy="116" r="1.65" fill="#86b8d8"/>
<circle cx="182.7" cy="112.5" r="1.65" fill="#86b8d8"/>
<circle cx="191" cy="120" r="1.65" fill="#86b8d8"/>
<circle cx="208.2" cy="127.5" r="1.65" fill="#86b8d8"/>
<circle cx="225" cy="133.3" r="1.65" fill="#86b8d8"/>
<polyline points="174.3,89.4 182.7,83.2 191,93.3 208.2,108.8 225,120.9" fill="none" stroke="#1e2f52" stroke-width="2" stroke-linejoin="round" stroke-linecap="round"/>
<circle cx="174.3" cy="89.4" r="1.65" fill="#1e2f52"/>
<circle cx="182.7" cy="83.2" r="1.65" fill="#1e2f52"/>
<circle cx="191" cy="93.3" r="1.65" fill="#1e2f52"/>
<circle cx="208.2" cy="108.8" r="1.65" fill="#1e2f52"/>
<circle cx="225" cy="120.9" r="1.65" fill="#1e2f52"/>
<polyline points="174.3,78.2 182.7,72.7 191,81.3 208.2,102 225,115.6" fill="none" stroke="#8e0c33" stroke-width="2" stroke-linejoin="round" stroke-linecap="round"/>
<circle cx="174.3" cy="78.2" r="1.65" fill="#8e0c33"/>
<circle cx="182.7" cy="72.7" r="1.65" fill="#8e0c33"/>
<circle cx="191" cy="81.3" r="1.65" fill="#8e0c33"/>
<circle cx="208.2" cy="102" r="1.65" fill="#8e0c33"/>
<circle cx="225" cy="115.6" r="1.65" fill="#8e0c33"/>
<text x="230.9" y="118.2" font-size="5.45" font-style="italic" fill="#333" stroke="#333" stroke-width="0.16">RUNX1*</text>
<text x="230.9" y="124.8" font-size="5.45" font-style="italic" fill="#333" stroke="#333" stroke-width="0.16">CBL*</text>
<text x="230.9" y="133.1" font-size="5.45" font-style="italic" fill="#333" stroke="#333" stroke-width="0.16">ASXL1</text>
<text x="230.9" y="138.2" font-size="5.45" font-style="italic" fill="#333" stroke="#333" stroke-width="0.16">TET2</text>
<text x="230.9" y="143.4" font-size="5.45" font-style="italic" fill="#333" stroke="#333" stroke-width="0.16">SRSF2</text>
<text x="230.9" y="151.5" font-size="5.45" font-style="italic" fill="#333" stroke="#333" stroke-width="0.16">MYO5B</text>
<text x="230.9" y="158.3" font-size="5.45" font-style="italic" fill="#333" stroke="#333" stroke-width="0.16">NRAS</text>
<text x="168" y="163.2" font-size="5.45" font-style="italic" fill="#333" stroke="#333" stroke-width="0.16">MIR142</text>
<line x1="290.4" y1="57.2" x2="290.4" y2="157.2" stroke="#111" stroke-width="1.3"/>
<line x1="287.4" y1="156.7" x2="290.4" y2="156.7" stroke="#111" stroke-width="1.15"/>
<text x="284.4" y="159.4" font-size="8" text-anchor="end" fill="#222" stroke="#222" stroke-width="0.22" textLength="4.09" lengthAdjust="spacingAndGlyphs">0</text>
<line x1="287.4" y1="137.44" x2="290.4" y2="137.44" stroke="#111" stroke-width="1.15"/>
<text x="284.4" y="140.14" font-size="8" text-anchor="end" fill="#222" stroke="#222" stroke-width="0.22" textLength="8.18" lengthAdjust="spacingAndGlyphs">20</text>
<line x1="287.4" y1="118.18" x2="290.4" y2="118.18" stroke="#111" stroke-width="1.15"/>
<text x="284.4" y="120.88" font-size="8" text-anchor="end" fill="#222" stroke="#222" stroke-width="0.22" textLength="8.18" lengthAdjust="spacingAndGlyphs">40</text>
<line x1="287.4" y1="98.92" x2="290.4" y2="98.92" stroke="#111" stroke-width="1.15"/>
<text x="284.4" y="101.62" font-size="8" text-anchor="end" fill="#222" stroke="#222" stroke-width="0.22" textLength="8.18" lengthAdjust="spacingAndGlyphs">60</text>
<line x1="287.4" y1="79.66" x2="290.4" y2="79.66" stroke="#111" stroke-width="1.15"/>
<text x="284.4" y="82.36" font-size="8" text-anchor="end" fill="#222" stroke="#222" stroke-width="0.22" textLength="8.18" lengthAdjust="spacingAndGlyphs">80</text>
<line x1="287.4" y1="60.4" x2="290.4" y2="60.4" stroke="#111" stroke-width="1.15"/>
<text x="284.4" y="63.1" font-size="8" text-anchor="end" fill="#222" stroke="#222" stroke-width="0.22" textLength="12.26" lengthAdjust="spacingAndGlyphs">100</text>
<text x="0" y="0" font-size="9.9" text-anchor="middle" fill="#222" stroke="#222" stroke-width="0.25" textLength="88.3" lengthAdjust="spacingAndGlyphs" transform="translate(266.7,109.65) rotate(-90)">VAF in peripheral blood</text>
<line x1="300.6" y1="167.9" x2="365" y2="167.9" stroke="#111" stroke-width="1.4"/>
<line x1="301.2" y1="167.9" x2="301.2" y2="170.9" stroke="#111" stroke-width="1.15"/>
<text x="301.2" y="180.7" font-size="8" text-anchor="middle" fill="#222" stroke="#222" stroke-width="0.22" textLength="4.09" lengthAdjust="spacingAndGlyphs">0</text>
<line x1="321.37" y1="167.9" x2="321.37" y2="170.9" stroke="#111" stroke-width="1.15"/>
<text x="321.37" y="180.7" font-size="8" text-anchor="middle" fill="#222" stroke="#222" stroke-width="0.22" textLength="8.18" lengthAdjust="spacingAndGlyphs">10</text>
<line x1="341.53" y1="167.9" x2="341.53" y2="170.9" stroke="#111" stroke-width="1.15"/>
<text x="341.53" y="180.7" font-size="8" text-anchor="middle" fill="#222" stroke="#222" stroke-width="0.22" textLength="8.18" lengthAdjust="spacingAndGlyphs">20</text>
<line x1="361.7" y1="167.9" x2="361.7" y2="170.9" stroke="#111" stroke-width="1.15"/>
<text x="361.7" y="180.7" font-size="8" text-anchor="middle" fill="#222" stroke="#222" stroke-width="0.22" textLength="8.18" lengthAdjust="spacingAndGlyphs">30</text>
<text x="331.45" y="194.4" font-size="10.2" text-anchor="middle" fill="#222" stroke="#222" stroke-width="0.3" textLength="18.5" lengthAdjust="spacingAndGlyphs">Days</text>
<polyline points="301.2,156.5 357.7,156.1" fill="none" stroke="#e2a23a" stroke-width="2" stroke-linejoin="round" stroke-linecap="round"/>
<circle cx="301.2" cy="156.5" r="1.65" fill="#e2a23a"/>
<circle cx="357.7" cy="156.1" r="1.65" fill="#e2a23a"/>
<polyline points="301.2,156 357.7,152" fill="none" stroke="#6aa83c" stroke-width="2" stroke-linejoin="round" stroke-linecap="round"/>
<circle cx="301.2" cy="156" r="1.65" fill="#6aa83c"/>
<circle cx="357.7" cy="152" r="1.65" fill="#6aa83c"/>
<polyline points="301.2,140.6 357.9,125.8" fill="none" stroke="#1e2f52" stroke-width="2" stroke-linejoin="round" stroke-linecap="round"/>
<circle cx="301.2" cy="140.6" r="1.65" fill="#1e2f52"/>
<circle cx="357.9" cy="125.8" r="1.65" fill="#1e2f52"/>
<polyline points="301.2,135.8 357.9,125.6" fill="none" stroke="#8e0c33" stroke-width="2" stroke-linejoin="round" stroke-linecap="round"/>
<circle cx="301.2" cy="135.8" r="1.65" fill="#8e0c33"/>
<circle cx="357.9" cy="125.6" r="1.65" fill="#8e0c33"/>
<text x="363" y="122.9" font-size="5.45" font-style="italic" fill="#333" stroke="#333" stroke-width="0.16">RUNX1</text>
<text x="363" y="131.5" font-size="5.45" font-style="italic" fill="#333" stroke="#333" stroke-width="0.16">PHF6</text>
<text x="364" y="154.6" font-size="5.45" font-style="italic" fill="#333" stroke="#333" stroke-width="0.16">IDH1</text>
<text x="364" y="162.3" font-size="5.45" font-style="italic" fill="#333" stroke="#333" stroke-width="0.16">IDH2</text>
<line x1="419.2" y1="57.2" x2="419.2" y2="157.2" stroke="#111" stroke-width="1.3"/>
<line x1="416.2" y1="156.7" x2="419.2" y2="156.7" stroke="#111" stroke-width="1.15"/>
<text x="413.2" y="159.4" font-size="8" text-anchor="end" fill="#222" stroke="#222" stroke-width="0.22" textLength="4.09" lengthAdjust="spacingAndGlyphs">0</text>
<line x1="416.2" y1="137.44" x2="419.2" y2="137.44" stroke="#111" stroke-width="1.15"/>
<text x="413.2" y="140.14" font-size="8" text-anchor="end" fill="#222" stroke="#222" stroke-width="0.22" textLength="8.18" lengthAdjust="spacingAndGlyphs">20</text>
<line x1="416.2" y1="118.18" x2="419.2" y2="118.18" stroke="#111" stroke-width="1.15"/>
<text x="413.2" y="120.88" font-size="8" text-anchor="end" fill="#222" stroke="#222" stroke-width="0.22" textLength="8.18" lengthAdjust="spacingAndGlyphs">40</text>
<line x1="416.2" y1="98.92" x2="419.2" y2="98.92" stroke="#111" stroke-width="1.15"/>
<text x="413.2" y="101.62" font-size="8" text-anchor="end" fill="#222" stroke="#222" stroke-width="0.22" textLength="8.18" lengthAdjust="spacingAndGlyphs">60</text>
<line x1="416.2" y1="79.66" x2="419.2" y2="79.66" stroke="#111" stroke-width="1.15"/>
<text x="413.2" y="82.36" font-size="8" text-anchor="end" fill="#222" stroke="#222" stroke-width="0.22" textLength="8.18" lengthAdjust="spacingAndGlyphs">80</text>
<line x1="416.2" y1="60.4" x2="419.2" y2="60.4" stroke="#111" stroke-width="1.15"/>
<text x="413.2" y="63.1" font-size="8" text-anchor="end" fill="#222" stroke="#222" stroke-width="0.22" textLength="12.26" lengthAdjust="spacingAndGlyphs">100</text>
<text x="0" y="0" font-size="9.9" text-anchor="middle" fill="#222" stroke="#222" stroke-width="0.25" textLength="76.6" lengthAdjust="spacingAndGlyphs" transform="translate(395.5,109.05) rotate(-90)">VAF in bone marrow</text>
<line x1="429" y1="167.6" x2="493.7" y2="167.6" stroke="#111" stroke-width="1.4"/>
<line x1="429.6" y1="167.6" x2="429.6" y2="170.6" stroke="#111" stroke-width="1.15"/>
<text x="429.6" y="180.4" font-size="8" text-anchor="middle" fill="#222" stroke="#222" stroke-width="0.22" textLength="4.09" lengthAdjust="spacingAndGlyphs">0</text>
<line x1="449.87" y1="167.6" x2="449.87" y2="170.6" stroke="#111" stroke-width="1.15"/>
<text x="449.87" y="180.4" font-size="8" text-anchor="middle" fill="#222" stroke="#222" stroke-width="0.22" textLength="8.18" lengthAdjust="spacingAndGlyphs">10</text>
<line x1="470.13" y1="167.6" x2="470.13" y2="170.6" stroke="#111" stroke-width="1.15"/>
<text x="470.13" y="180.4" font-size="8" text-anchor="middle" fill="#222" stroke="#222" stroke-width="0.22" textLength="8.18" lengthAdjust="spacingAndGlyphs">20</text>
<line x1="490.4" y1="167.6" x2="490.4" y2="170.6" stroke="#111" stroke-width="1.15"/>
<text x="490.4" y="180.4" font-size="8" text-anchor="middle" fill="#222" stroke="#222" stroke-width="0.22" textLength="8.18" lengthAdjust="spacingAndGlyphs">30</text>
<text x="460" y="194.1" font-size="10.2" text-anchor="middle" fill="#222" stroke="#222" stroke-width="0.3" textLength="18.5" lengthAdjust="spacingAndGlyphs">Days</text>
<polyline points="429.6,155.6 486.6,151.6" fill="none" stroke="#6aa83c" stroke-width="2" stroke-linejoin="round" stroke-linecap="round"/>
<circle cx="429.6" cy="155.6" r="1.65" fill="#6aa83c"/>
<circle cx="486.6" cy="151.6" r="1.65" fill="#6aa83c"/>
<polyline points="429.6,155.9 486.6,152.9" fill="none" stroke="#d2ac3a" stroke-width="2" stroke-linejoin="round" stroke-linecap="round"/>
<circle cx="429.6" cy="155.9" r="1.65" fill="#d2ac3a"/>
<circle cx="486.6" cy="152.9" r="1.65" fill="#d2ac3a"/>
<polyline points="429.6,131 486.8,126.3" fill="none" stroke="#1e2f52" stroke-width="2" stroke-linejoin="round" stroke-linecap="round"/>
<circle cx="429.6" cy="131" r="1.65" fill="#1e2f52"/>
<circle cx="486.8" cy="126.3" r="1.65" fill="#1e2f52"/>
<polyline points="429.6,126.3 486.8,122.3" fill="none" stroke="#8e0c33" stroke-width="2" stroke-linejoin="round" stroke-linecap="round"/>
<circle cx="429.6" cy="126.3" r="1.65" fill="#8e0c33"/>
<circle cx="486.8" cy="122.3" r="1.65" fill="#8e0c33"/>
<text x="492.4" y="120.3" font-size="5.45" font-style="italic" fill="#333" stroke="#333" stroke-width="0.16">RUNX1</text>
<text x="492.4" y="127.3" font-size="5.45" font-style="italic" fill="#333" stroke="#333" stroke-width="0.16">PHF6</text>
<text x="493.2" y="150.6" font-size="5.45" font-style="italic" fill="#333" stroke="#333" stroke-width="0.16">IDH1</text>
<text x="493.2" y="157.6" font-size="5.45" font-style="italic" fill="#333" stroke="#333" stroke-width="0.16">IDH2</text>
<line x1="39.6" y1="260.7" x2="39.6" y2="360.7" stroke="#111" stroke-width="1.3"/>
<line x1="36.6" y1="360.2" x2="39.6" y2="360.2" stroke="#111" stroke-width="1.15"/>
<text x="33.6" y="362.9" font-size="8" text-anchor="end" fill="#222" stroke="#222" stroke-width="0.22" textLength="4.09" lengthAdjust="spacingAndGlyphs">0</text>
<line x1="36.6" y1="340.94" x2="39.6" y2="340.94" stroke="#111" stroke-width="1.15"/>
<text x="33.6" y="343.64" font-size="8" text-anchor="end" fill="#222" stroke="#222" stroke-width="0.22" textLength="8.18" lengthAdjust="spacingAndGlyphs">20</text>
<line x1="36.6" y1="321.68" x2="39.6" y2="321.68" stroke="#111" stroke-width="1.15"/>
<text x="33.6" y="324.38" font-size="8" text-anchor="end" fill="#222" stroke="#222" stroke-width="0.22" textLength="8.18" lengthAdjust="spacingAndGlyphs">40</text>
<line x1="36.6" y1="302.42" x2="39.6" y2="302.42" stroke="#111" stroke-width="1.15"/>
<text x="33.6" y="305.12" font-size="8" text-anchor="end" fill="#222" stroke="#222" stroke-width="0.22" textLength="8.18" lengthAdjust="spacingAndGlyphs">60</text>
<line x1="36.6" y1="283.16" x2="39.6" y2="283.16" stroke="#111" stroke-width="1.15"/>
<text x="33.6" y="285.86" font-size="8" text-anchor="end" fill="#222" stroke="#222" stroke-width="0.22" textLength="8.18" lengthAdjust="spacingAndGlyphs">80</text>
<line x1="36.6" y1="263.9" x2="39.6" y2="263.9" stroke="#111" stroke-width="1.15"/>
<text x="33.6" y="266.6" font-size="8" text-anchor="end" fill="#222" stroke="#222" stroke-width="0.22" textLength="12.26" lengthAdjust="spacingAndGlyphs">100</text>
<text x="0" y="0" font-size="9.9" text-anchor="middle" fill="#222" stroke="#222" stroke-width="0.25" textLength="88.3" lengthAdjust="spacingAndGlyphs" transform="translate(15.9,313.15) rotate(-90)">VAF in peripheral blood</text>
<line x1="49.9" y1="371.8" x2="115.1" y2="371.8" stroke="#111" stroke-width="1.4"/>
<line x1="50.5" y1="371.8" x2="50.5" y2="374.8" stroke="#111" stroke-width="1.15"/>
<text x="0" y="0" font-size="8" text-anchor="end" fill="#222" stroke="#222" stroke-width="0.22" textLength="4.09" lengthAdjust="spacingAndGlyphs" transform="translate(53.6,381.9) rotate(-45)">0</text>
<line x1="62.76" y1="371.8" x2="62.76" y2="374.8" stroke="#111" stroke-width="1.15"/>
<text x="0" y="0" font-size="8" text-anchor="end" fill="#222" stroke="#222" stroke-width="0.22" textLength="8.18" lengthAdjust="spacingAndGlyphs" transform="translate(65.86,381.9) rotate(-45)">50</text>
<line x1="75.02" y1="371.8" x2="75.02" y2="374.8" stroke="#111" stroke-width="1.15"/>
<text x="0" y="0" font-size="8" text-anchor="end" fill="#222" stroke="#222" stroke-width="0.22" textLength="12.26" lengthAdjust="spacingAndGlyphs" transform="translate(78.12,381.9) rotate(-45)">100</text>
<line x1="87.28" y1="371.8" x2="87.28" y2="374.8" stroke="#111" stroke-width="1.15"/>
<text x="0" y="0" font-size="8" text-anchor="end" fill="#222" stroke="#222" stroke-width="0.22" textLength="12.26" lengthAdjust="spacingAndGlyphs" transform="translate(90.38,381.9) rotate(-45)">150</text>
<line x1="99.54" y1="371.8" x2="99.54" y2="374.8" stroke="#111" stroke-width="1.15"/>
<text x="0" y="0" font-size="8" text-anchor="end" fill="#222" stroke="#222" stroke-width="0.22" textLength="12.26" lengthAdjust="spacingAndGlyphs" transform="translate(102.64,381.9) rotate(-45)">200</text>
<line x1="111.8" y1="371.8" x2="111.8" y2="374.8" stroke="#111" stroke-width="1.15"/>
<text x="0" y="0" font-size="8" text-anchor="end" fill="#222" stroke="#222" stroke-width="0.22" textLength="12.26" lengthAdjust="spacingAndGlyphs" transform="translate(114.9,381.9) rotate(-45)">250</text>
<text x="75.6" y="403" font-size="10.2" text-anchor="middle" fill="#222" stroke="#222" stroke-width="0.3" textLength="18.5" lengthAdjust="spacingAndGlyphs">Days</text>
<polyline points="50.2,359.9 57.2,360.2 64.2,360 77.5,360 105,358.8" fill="none" stroke="#30245a" stroke-width="2" stroke-linejoin="round" stroke-linecap="round"/>
<circle cx="50.2" cy="359.9" r="1.65" fill="#30245a"/>
<circle cx="57.2" cy="360.2" r="1.65" fill="#30245a"/>
<circle cx="64.2" cy="360" r="1.65" fill="#30245a"/>
<circle cx="77.5" cy="360" r="1.65" fill="#30245a"/>
<circle cx="105" cy="358.8" r="1.65" fill="#30245a"/>
<polyline points="50.2,359.9 57.2,360.4 64.2,351.1 77.5,359.6" fill="none" stroke="#2b4d76" stroke-width="2" stroke-linejoin="round" stroke-linecap="round"/>
<circle cx="50.2" cy="359.9" r="1.65" fill="#2b4d76"/>
<circle cx="57.2" cy="360.4" r="1.65" fill="#2b4d76"/>
<circle cx="64.2" cy="351.1" r="1.65" fill="#2b4d76"/>
<circle cx="77.5" cy="359.6" r="1.65" fill="#2b4d76"/>
<polyline points="50.2,315.3 57.2,318.8 64.2,340 77.5,359.6" fill="none" stroke="#1e2f52" stroke-width="2" stroke-linejoin="round" stroke-linecap="round"/>
<circle cx="50.2" cy="315.3" r="1.65" fill="#1e2f52"/>
<circle cx="57.2" cy="318.8" r="1.65" fill="#1e2f52"/>
<circle cx="64.2" cy="340" r="1.65" fill="#1e2f52"/>
<circle cx="77.5" cy="359.6" r="1.65" fill="#1e2f52"/>
<polyline points="50.2,322 57.2,316.5 64.2,339.7 77.5,359.6 105,320.8" fill="none" stroke="#8e0c33" stroke-width="2" stroke-linejoin="round" stroke-linecap="round"/>
<circle cx="50.2" cy="322" r="1.65" fill="#8e0c33"/>
<circle cx="57.2" cy="316.5" r="1.65" fill="#8e0c33"/>
<circle cx="64.2" cy="339.7" r="1.65" fill="#8e0c33"/>
<circle cx="77.5" cy="359.6" r="1.65" fill="#8e0c33"/>
<circle cx="105" cy="320.8" r="1.65" fill="#8e0c33"/>
<polyline points="77.5,359.6 105,318.8" fill="none" stroke="#8e0c33" stroke-width="2" stroke-linejoin="round" stroke-linecap="round"/>
<circle cx="77.5" cy="359.6" r="1.65" fill="#8e0c33"/>
<circle cx="105" cy="318.8" r="1.65" fill="#8e0c33"/>
<text x="44.4" y="311.2" font-size="5.45" font-style="italic" fill="#333" stroke="#333" stroke-width="0.16">SI</text>
<text x="57.9" y="312.1" font-size="5.45" font-style="italic" fill="#333" stroke="#333" stroke-width="0.16">CBFB</text>
<text x="53.7" y="351.2" font-size="5.45" font-style="italic" fill="#333" stroke="#333" stroke-width="0.16">KIT</text>
<text x="102.7" y="352.7" font-size="5.45" font-style="italic" fill="#333" stroke="#333" stroke-width="0.16">PHIP</text>
<line x1="163.5" y1="260.7" x2="163.5" y2="360.7" stroke="#111" stroke-width="1.3"/>
<line x1="160.5" y1="360.2" x2="163.5" y2="360.2" stroke="#111" stroke-width="1.15"/>
<text x="157.5" y="362.9" font-size="8" text-anchor="end" fill="#222" stroke="#222" stroke-width="0.22" textLength="4.09" lengthAdjust="spacingAndGlyphs">0</text>
<line x1="160.5" y1="340.94" x2="163.5" y2="340.94" stroke="#111" stroke-width="1.15"/>
<text x="157.5" y="343.64" font-size="8" text-anchor="end" fill="#222" stroke="#222" stroke-width="0.22" textLength="8.18" lengthAdjust="spacingAndGlyphs">20</text>
<line x1="160.5" y1="321.68" x2="163.5" y2="321.68" stroke="#111" stroke-width="1.15"/>
<text x="157.5" y="324.38" font-size="8" text-anchor="end" fill="#222" stroke="#222" stroke-width="0.22" textLength="8.18" lengthAdjust="spacingAndGlyphs">40</text>
<line x1="160.5" y1="302.42" x2="163.5" y2="302.42" stroke="#111" stroke-width="1.15"/>
<text x="157.5" y="305.12" font-size="8" text-anchor="end" fill="#222" stroke="#222" stroke-width="0.22" textLength="8.18" lengthAdjust="spacingAndGlyphs">60</text>
<line x1="160.5" y1="283.16" x2="163.5" y2="283.16" stroke="#111" stroke-width="1.15"/>
<text x="157.5" y="285.86" font-size="8" text-anchor="end" fill="#222" stroke="#222" stroke-width="0.22" textLength="8.18" lengthAdjust="spacingAndGlyphs">80</text>
<line x1="160.5" y1="263.9" x2="163.5" y2="263.9" stroke="#111" stroke-width="1.15"/>
<text x="157.5" y="266.6" font-size="8" text-anchor="end" fill="#222" stroke="#222" stroke-width="0.22" textLength="12.26" lengthAdjust="spacingAndGlyphs">100</text>
<text x="0" y="0" font-size="9.9" text-anchor="middle" fill="#222" stroke="#222" stroke-width="0.25" textLength="76.6" lengthAdjust="spacingAndGlyphs" transform="translate(139.8,312.55) rotate(-90)">VAF in bone marrow</text>
<line x1="174" y1="371.5" x2="238.8" y2="371.5" stroke="#111" stroke-width="1.4"/>
<line x1="174.6" y1="371.5" x2="174.6" y2="374.5" stroke="#111" stroke-width="1.15"/>
<text x="0" y="0" font-size="8" text-anchor="end" fill="#222" stroke="#222" stroke-width="0.22" textLength="4.09" lengthAdjust="spacingAndGlyphs" transform="translate(177.7,381.6) rotate(-45)">0</text>
<line x1="186.78" y1="371.5" x2="186.78" y2="374.5" stroke="#111" stroke-width="1.15"/>
<text x="0" y="0" font-size="8" text-anchor="end" fill="#222" stroke="#222" stroke-width="0.22" textLength="8.18" lengthAdjust="spacingAndGlyphs" transform="translate(189.88,381.6) rotate(-45)">50</text>
<line x1="198.96" y1="371.5" x2="198.96" y2="374.5" stroke="#111" stroke-width="1.15"/>
<text x="0" y="0" font-size="8" text-anchor="end" fill="#222" stroke="#222" stroke-width="0.22" textLength="12.26" lengthAdjust="spacingAndGlyphs" transform="translate(202.06,381.6) rotate(-45)">100</text>
<line x1="211.14" y1="371.5" x2="211.14" y2="374.5" stroke="#111" stroke-width="1.15"/>
<text x="0" y="0" font-size="8" text-anchor="end" fill="#222" stroke="#222" stroke-width="0.22" textLength="12.26" lengthAdjust="spacingAndGlyphs" transform="translate(214.24,381.6) rotate(-45)">150</text>
<line x1="223.32" y1="371.5" x2="223.32" y2="374.5" stroke="#111" stroke-width="1.15"/>
<text x="0" y="0" font-size="8" text-anchor="end" fill="#222" stroke="#222" stroke-width="0.22" textLength="12.26" lengthAdjust="spacingAndGlyphs" transform="translate(226.42,381.6) rotate(-45)">200</text>
<line x1="235.5" y1="371.5" x2="235.5" y2="374.5" stroke="#111" stroke-width="1.15"/>
<text x="0" y="0" font-size="8" text-anchor="end" fill="#222" stroke="#222" stroke-width="0.22" textLength="12.26" lengthAdjust="spacingAndGlyphs" transform="translate(238.6,381.6) rotate(-45)">250</text>
<text x="199.3" y="403" font-size="10.2" text-anchor="middle" fill="#222" stroke="#222" stroke-width="0.3" textLength="18.5" lengthAdjust="spacingAndGlyphs">Days</text>
<polyline points="174,359.5 181,360 187.5,359.8 201.4,360 229,349.7" fill="none" stroke="#30245a" stroke-width="2" stroke-linejoin="round" stroke-linecap="round"/>
<circle cx="174" cy="359.5" r="1.65" fill="#30245a"/>
<circle cx="181" cy="360" r="1.65" fill="#30245a"/>
<circle cx="187.5" cy="359.8" r="1.65" fill="#30245a"/>
<circle cx="201.4" cy="360" r="1.65" fill="#30245a"/>
<circle cx="229" cy="349.7" r="1.65" fill="#30245a"/>
<polyline points="174,360 181,359.6 187.5,358 201.4,360 229,331.5" fill="none" stroke="#2b4d76" stroke-width="2" stroke-linejoin="round" stroke-linecap="round"/>
<circle cx="174" cy="360" r="1.65" fill="#2b4d76"/>
<circle cx="181" cy="359.6" r="1.65" fill="#2b4d76"/>
<circle cx="187.5" cy="358" r="1.65" fill="#2b4d76"/>
<circle cx="201.4" cy="360" r="1.65" fill="#2b4d76"/>
<circle cx="229" cy="331.5" r="1.65" fill="#2b4d76"/>
<polyline points="174,316.8 181,324.6 187.5,347 201.4,360 229,318.5" fill="none" stroke="#1e2f52" stroke-width="2" stroke-linejoin="round" stroke-linecap="round"/>
<circle cx="174" cy="316.8" r="1.65" fill="#1e2f52"/>
<circle cx="181" cy="324.6" r="1.65" fill="#1e2f52"/>
<circle cx="187.5" cy="347" r="1.65" fill="#1e2f52"/>
<circle cx="201.4" cy="360" r="1.65" fill="#1e2f52"/>
<circle cx="229" cy="318.5" r="1.65" fill="#1e2f52"/>
<polyline points="174,331.2 181,326.3 187.5,351.4 201.4,360 229,320.5" fill="none" stroke="#8e0c33" stroke-width="2" stroke-linejoin="round" stroke-linecap="round"/>
<circle cx="174" cy="331.2" r="1.65" fill="#8e0c33"/>
<circle cx="181" cy="326.3" r="1.65" fill="#8e0c33"/>
<circle cx="187.5" cy="351.4" r="1.65" fill="#8e0c33"/>
<circle cx="201.4" cy="360" r="1.65" fill="#8e0c33"/>
<circle cx="229" cy="320.5" r="1.65" fill="#8e0c33"/>
<text x="179.2" y="313.9" font-size="5.45" font-style="italic" fill="#333" stroke="#333" stroke-width="0.16">SI</text>
<text x="165.7" y="338.4" font-size="5.45" font-style="italic" fill="#333" stroke="#333" stroke-width="0.16">CBFB</text>
<text x="232" y="334.1" font-size="5.45" font-style="italic" fill="#333" stroke="#333" stroke-width="0.16">KIT</text>
<text x="229.4" y="347.1" font-size="5.45" font-style="italic" fill="#333" stroke="#333" stroke-width="0.16">PHIP</text>
<line x1="290.2" y1="260.7" x2="290.2" y2="360.7" stroke="#111" stroke-width="1.3"/>
<line x1="287.2" y1="360.2" x2="290.2" y2="360.2" stroke="#111" stroke-width="1.15"/>
<text x="284.2" y="362.9" font-size="8" text-anchor="end" fill="#222" stroke="#222" stroke-width="0.22" textLength="4.09" lengthAdjust="spacingAndGlyphs">0</text>
<line x1="287.2" y1="340.94" x2="290.2" y2="340.94" stroke="#111" stroke-width="1.15"/>
<text x="284.2" y="343.64" font-size="8" text-anchor="end" fill="#222" stroke="#222" stroke-width="0.22" textLength="8.18" lengthAdjust="spacingAndGlyphs">20</text>
<line x1="287.2" y1="321.68" x2="290.2" y2="321.68" stroke="#111" stroke-width="1.15"/>
<text x="284.2" y="324.38" font-size="8" text-anchor="end" fill="#222" stroke="#222" stroke-width="0.22" textLength="8.18" lengthAdjust="spacingAndGlyphs">40</text>
<line x1="287.2" y1="302.42" x2="290.2" y2="302.42" stroke="#111" stroke-width="1.15"/>
<text x="284.2" y="305.12" font-size="8" text-anchor="end" fill="#222" stroke="#222" stroke-width="0.22" textLength="8.18" lengthAdjust="spacingAndGlyphs">60</text>
<line x1="287.2" y1="283.16" x2="290.2" y2="283.16" stroke="#111" stroke-width="1.15"/>
<text x="284.2" y="285.86" font-size="8" text-anchor="end" fill="#222" stroke="#222" stroke-width="0.22" textLength="8.18" lengthAdjust="spacingAndGlyphs">80</text>
<line x1="287.2" y1="263.9" x2="290.2" y2="263.9" stroke="#111" stroke-width="1.15"/>
<text x="284.2" y="266.6" font-size="8" text-anchor="end" fill="#222" stroke="#222" stroke-width="0.22" textLength="12.26" lengthAdjust="spacingAndGlyphs">100</text>
<text x="0" y="0" font-size="9.9" text-anchor="middle" fill="#222" stroke="#222" stroke-width="0.25" textLength="88.3" lengthAdjust="spacingAndGlyphs" transform="translate(266.5,313.15) rotate(-90)">VAF in peripheral blood</text>
<line x1="300.9" y1="372" x2="366" y2="372" stroke="#111" stroke-width="1.4"/>
<line x1="301.5" y1="372" x2="301.5" y2="375" stroke="#111" stroke-width="1.15"/>
<text x="0" y="0" font-size="8" text-anchor="end" fill="#222" stroke="#222" stroke-width="0.22" textLength="4.09" lengthAdjust="spacingAndGlyphs" transform="translate(304.6,382.1) rotate(-45)">0</text>
<line x1="313.74" y1="372" x2="313.74" y2="375" stroke="#111" stroke-width="1.15"/>
<text x="0" y="0" font-size="8" text-anchor="end" fill="#222" stroke="#222" stroke-width="0.22" textLength="12.26" lengthAdjust="spacingAndGlyphs" transform="translate(316.84,382.1) rotate(-45)">100</text>
<line x1="325.98" y1="372" x2="325.98" y2="375" stroke="#111" stroke-width="1.15"/>
<text x="0" y="0" font-size="8" text-anchor="end" fill="#222" stroke="#222" stroke-width="0.22" textLength="12.26" lengthAdjust="spacingAndGlyphs" transform="translate(329.08,382.1) rotate(-45)">200</text>
<line x1="338.22" y1="372" x2="338.22" y2="375" stroke="#111" stroke-width="1.15"/>
<text x="0" y="0" font-size="8" text-anchor="end" fill="#222" stroke="#222" stroke-width="0.22" textLength="12.26" lengthAdjust="spacingAndGlyphs" transform="translate(341.32,382.1) rotate(-45)">300</text>
<line x1="350.46" y1="372" x2="350.46" y2="375" stroke="#111" stroke-width="1.15"/>
<text x="0" y="0" font-size="8" text-anchor="end" fill="#222" stroke="#222" stroke-width="0.22" textLength="12.26" lengthAdjust="spacingAndGlyphs" transform="translate(353.56,382.1) rotate(-45)">400</text>
<line x1="362.7" y1="372" x2="362.7" y2="375" stroke="#111" stroke-width="1.15"/>
<text x="0" y="0" font-size="8" text-anchor="end" fill="#222" stroke="#222" stroke-width="0.22" textLength="12.26" lengthAdjust="spacingAndGlyphs" transform="translate(365.8,382.1) rotate(-45)">500</text>
<text x="326.1" y="403" font-size="10.2" text-anchor="middle" fill="#222" stroke="#222" stroke-width="0.3" textLength="18.5" lengthAdjust="spacingAndGlyphs">Days</text>
<polyline points="301.2,356 304.6,357 307,355 321.3,354 358.8,356.5" fill="none" stroke="#1e2f52" stroke-width="2" stroke-linejoin="round" stroke-linecap="round"/>
<circle cx="301.2" cy="356" r="1.65" fill="#1e2f52"/>
<circle cx="304.6" cy="357" r="1.65" fill="#1e2f52"/>
<circle cx="307" cy="355" r="1.65" fill="#1e2f52"/>
<circle cx="321.3" cy="354" r="1.65" fill="#1e2f52"/>
<circle cx="358.8" cy="356.5" r="1.65" fill="#1e2f52"/>
<polyline points="301.2,360 304.6,358 307,348.3 321.3,352.1 358.8,354" fill="none" stroke="#4a1a5c" stroke-width="2" stroke-linejoin="round" stroke-linecap="round"/>
<circle cx="301.2" cy="360" r="1.65" fill="#4a1a5c"/>
<circle cx="304.6" cy="358" r="1.65" fill="#4a1a5c"/>
<circle cx="307" cy="348.3" r="1.65" fill="#4a1a5c"/>
<circle cx="321.3" cy="352.1" r="1.65" fill="#4a1a5c"/>
<circle cx="358.8" cy="354" r="1.65" fill="#4a1a5c"/>
<polyline points="301.2,357 304.6,352 307,337.7 321.3,334.4 358.8,343.5" fill="none" stroke="#2f5a8a" stroke-width="2" stroke-linejoin="round" stroke-linecap="round"/>
<circle cx="301.2" cy="357" r="1.65" fill="#2f5a8a"/>
<circle cx="304.6" cy="352" r="1.65" fill="#2f5a8a"/>
<circle cx="307" cy="337.7" r="1.65" fill="#2f5a8a"/>
<circle cx="321.3" cy="334.4" r="1.65" fill="#2f5a8a"/>
<circle cx="358.8" cy="343.5" r="1.65" fill="#2f5a8a"/>
<polyline points="301.2,321.3 304.6,329.6 307,357 321.3,360.4 358.8,343.5" fill="none" stroke="#8e0c33" stroke-width="2" stroke-linejoin="round" stroke-linecap="round"/>
<circle cx="301.2" cy="321.3" r="1.65" fill="#8e0c33"/>
<circle cx="304.6" cy="329.6" r="1.65" fill="#8e0c33"/>
<circle cx="307" cy="357" r="1.65" fill="#8e0c33"/>
<circle cx="321.3" cy="360.4" r="1.65" fill="#8e0c33"/>
<circle cx="358.8" cy="343.5" r="1.65" fill="#8e0c33"/>
<text x="305" y="317.5" font-size="5.45" font-style="italic" fill="#333" stroke="#333" stroke-width="0.16">TP53*</text>
<text x="327.1" y="331.5" font-size="5.45" font-style="italic" fill="#333" stroke="#333" stroke-width="0.16">GRID1</text>
<text x="360.8" y="354.6" font-size="5.45" font-style="italic" fill="#333" stroke="#333" stroke-width="0.16">FAM47A</text>
<text x="360.8" y="362.7" font-size="5.45" font-style="italic" fill="#333" stroke="#333" stroke-width="0.16">FKBP8</text>
<line x1="419" y1="260.7" x2="419" y2="360.6" stroke="#111" stroke-width="1.3"/>
<line x1="416" y1="360.1" x2="419" y2="360.1" stroke="#111" stroke-width="1.15"/>
<text x="413" y="362.8" font-size="8" text-anchor="end" fill="#222" stroke="#222" stroke-width="0.22" textLength="4.09" lengthAdjust="spacingAndGlyphs">0</text>
<line x1="416" y1="340.86" x2="419" y2="340.86" stroke="#111" stroke-width="1.15"/>
<text x="413" y="343.56" font-size="8" text-anchor="end" fill="#222" stroke="#222" stroke-width="0.22" textLength="8.18" lengthAdjust="spacingAndGlyphs">20</text>
<line x1="416" y1="321.62" x2="419" y2="321.62" stroke="#111" stroke-width="1.15"/>
<text x="413" y="324.32" font-size="8" text-anchor="end" fill="#222" stroke="#222" stroke-width="0.22" textLength="8.18" lengthAdjust="spacingAndGlyphs">40</text>
<line x1="416" y1="302.38" x2="419" y2="302.38" stroke="#111" stroke-width="1.15"/>
<text x="413" y="305.08" font-size="8" text-anchor="end" fill="#222" stroke="#222" stroke-width="0.22" textLength="8.18" lengthAdjust="spacingAndGlyphs">60</text>
<line x1="416" y1="283.14" x2="419" y2="283.14" stroke="#111" stroke-width="1.15"/>
<text x="413" y="285.84" font-size="8" text-anchor="end" fill="#222" stroke="#222" stroke-width="0.22" textLength="8.18" lengthAdjust="spacingAndGlyphs">80</text>
<line x1="416" y1="263.9" x2="419" y2="263.9" stroke="#111" stroke-width="1.15"/>
<text x="413" y="266.6" font-size="8" text-anchor="end" fill="#222" stroke="#222" stroke-width="0.22" textLength="12.26" lengthAdjust="spacingAndGlyphs">100</text>
<text x="0" y="0" font-size="9.9" text-anchor="middle" fill="#222" stroke="#222" stroke-width="0.25" textLength="76.6" lengthAdjust="spacingAndGlyphs" transform="translate(395.3,312.5) rotate(-90)">VAF in bone marrow</text>
<line x1="429.8" y1="371.3" x2="494.3" y2="371.3" stroke="#111" stroke-width="1.4"/>
<line x1="430.4" y1="371.3" x2="430.4" y2="374.3" stroke="#111" stroke-width="1.15"/>
<text x="0" y="0" font-size="8" text-anchor="end" fill="#222" stroke="#222" stroke-width="0.22" textLength="4.09" lengthAdjust="spacingAndGlyphs" transform="translate(433.5,381.4) rotate(-45)">0</text>
<line x1="442.52" y1="371.3" x2="442.52" y2="374.3" stroke="#111" stroke-width="1.15"/>
<text x="0" y="0" font-size="8" text-anchor="end" fill="#222" stroke="#222" stroke-width="0.22" textLength="12.26" lengthAdjust="spacingAndGlyphs" transform="translate(445.62,381.4) rotate(-45)">100</text>
<line x1="454.64" y1="371.3" x2="454.64" y2="374.3" stroke="#111" stroke-width="1.15"/>
<text x="0" y="0" font-size="8" text-anchor="end" fill="#222" stroke="#222" stroke-width="0.22" textLength="12.26" lengthAdjust="spacingAndGlyphs" transform="translate(457.74,381.4) rotate(-45)">200</text>
<line x1="466.76" y1="371.3" x2="466.76" y2="374.3" stroke="#111" stroke-width="1.15"/>
<text x="0" y="0" font-size="8" text-anchor="end" fill="#222" stroke="#222" stroke-width="0.22" textLength="12.26" lengthAdjust="spacingAndGlyphs" transform="translate(469.86,381.4) rotate(-45)">300</text>
<line x1="478.88" y1="371.3" x2="478.88" y2="374.3" stroke="#111" stroke-width="1.15"/>
<text x="0" y="0" font-size="8" text-anchor="end" fill="#222" stroke="#222" stroke-width="0.22" textLength="12.26" lengthAdjust="spacingAndGlyphs" transform="translate(481.98,381.4) rotate(-45)">400</text>
<line x1="491" y1="371.3" x2="491" y2="374.3" stroke="#111" stroke-width="1.15"/>
<text x="0" y="0" font-size="8" text-anchor="end" fill="#222" stroke="#222" stroke-width="0.22" textLength="12.26" lengthAdjust="spacingAndGlyphs" transform="translate(494.1,381.4) rotate(-45)">500</text>
<text x="454.4" y="403" font-size="10.2" text-anchor="middle" fill="#222" stroke="#222" stroke-width="0.3" textLength="18.5" lengthAdjust="spacingAndGlyphs">Days</text>
<polyline points="429.6,360 433.2,358 436.3,353.7 450.4,352.7 487.8,359.2" fill="none" stroke="#1e2f52" stroke-width="2" stroke-linejoin="round" stroke-linecap="round"/>
<circle cx="429.6" cy="360" r="1.65" fill="#1e2f52"/>
<circle cx="433.2" cy="358" r="1.65" fill="#1e2f52"/>
<circle cx="436.3" cy="353.7" r="1.65" fill="#1e2f52"/>
<circle cx="450.4" cy="352.7" r="1.65" fill="#1e2f52"/>
<circle cx="487.8" cy="359.2" r="1.65" fill="#1e2f52"/>
<polyline points="429.6,360 433.2,357 436.3,353.1 450.4,350.7 487.8,351.1" fill="none" stroke="#4a1a5c" stroke-width="2" stroke-linejoin="round" stroke-linecap="round"/>
<circle cx="429.6" cy="360" r="1.65" fill="#4a1a5c"/>
<circle cx="433.2" cy="357" r="1.65" fill="#4a1a5c"/>
<circle cx="436.3" cy="353.1" r="1.65" fill="#4a1a5c"/>
<circle cx="450.4" cy="350.7" r="1.65" fill="#4a1a5c"/>
<circle cx="487.8" cy="351.1" r="1.65" fill="#4a1a5c"/>
<polyline points="429.6,356.8 433.2,354 436.3,332.1 450.4,326.1 487.8,354.7" fill="none" stroke="#2f5a8a" stroke-width="2" stroke-linejoin="round" stroke-linecap="round"/>
<circle cx="429.6" cy="356.8" r="1.65" fill="#2f5a8a"/>
<circle cx="433.2" cy="354" r="1.65" fill="#2f5a8a"/>
<circle cx="436.3" cy="332.1" r="1.65" fill="#2f5a8a"/>
<circle cx="450.4" cy="326.1" r="1.65" fill="#2f5a8a"/>
<circle cx="487.8" cy="354.7" r="1.65" fill="#2f5a8a"/>
<polyline points="429.6,289.7 433.2,329.1 436.3,360.2 450.4,360.2 487.8,341.6" fill="none" stroke="#8e0c33" stroke-width="2" stroke-linejoin="round" stroke-linecap="round"/>
<circle cx="429.6" cy="289.7" r="1.65" fill="#8e0c33"/>
<circle cx="433.2" cy="329.1" r="1.65" fill="#8e0c33"/>
<circle cx="436.3" cy="360.2" r="1.65" fill="#8e0c33"/>
<circle cx="450.4" cy="360.2" r="1.65" fill="#8e0c33"/>
<circle cx="487.8" cy="341.6" r="1.65" fill="#8e0c33"/>
<text x="435.3" y="312.7" font-size="5.45" font-style="italic" fill="#333" stroke="#333" stroke-width="0.16">TP53*</text>
<text x="458.5" y="325.5" font-size="5.45" font-style="italic" fill="#333" stroke="#333" stroke-width="0.16">GRID1</text>
<text x="490.4" y="350.7" font-size="5.45" font-style="italic" fill="#333" stroke="#333" stroke-width="0.16">FAM47A</text>
<text x="489.8" y="361.4" font-size="5.45" font-style="italic" fill="#333" stroke="#333" stroke-width="0.16">FKBP8</text>
<line x1="39.3" y1="470.9" x2="39.3" y2="571.2" stroke="#111" stroke-width="1.3"/>
<line x1="36.3" y1="570.7" x2="39.3" y2="570.7" stroke="#111" stroke-width="1.15"/>
<text x="33.3" y="573.4" font-size="8" text-anchor="end" fill="#222" stroke="#222" stroke-width="0.22" textLength="4.09" lengthAdjust="spacingAndGlyphs">0</text>
<line x1="36.3" y1="551.38" x2="39.3" y2="551.38" stroke="#111" stroke-width="1.15"/>
<text x="33.3" y="554.08" font-size="8" text-anchor="end" fill="#222" stroke="#222" stroke-width="0.22" textLength="8.18" lengthAdjust="spacingAndGlyphs">20</text>
<line x1="36.3" y1="532.06" x2="39.3" y2="532.06" stroke="#111" stroke-width="1.15"/>
<text x="33.3" y="534.76" font-size="8" text-anchor="end" fill="#222" stroke="#222" stroke-width="0.22" textLength="8.18" lengthAdjust="spacingAndGlyphs">40</text>
<line x1="36.3" y1="512.74" x2="39.3" y2="512.74" stroke="#111" stroke-width="1.15"/>
<text x="33.3" y="515.44" font-size="8" text-anchor="end" fill="#222" stroke="#222" stroke-width="0.22" textLength="8.18" lengthAdjust="spacingAndGlyphs">60</text>
<line x1="36.3" y1="493.42" x2="39.3" y2="493.42" stroke="#111" stroke-width="1.15"/>
<text x="33.3" y="496.12" font-size="8" text-anchor="end" fill="#222" stroke="#222" stroke-width="0.22" textLength="8.18" lengthAdjust="spacingAndGlyphs">80</text>
<line x1="36.3" y1="474.1" x2="39.3" y2="474.1" stroke="#111" stroke-width="1.15"/>
<text x="33.3" y="476.8" font-size="8" text-anchor="end" fill="#222" stroke="#222" stroke-width="0.22" textLength="12.26" lengthAdjust="spacingAndGlyphs">100</text>
<text x="0" y="0" font-size="9.9" text-anchor="middle" fill="#222" stroke="#222" stroke-width="0.25" textLength="88.3" lengthAdjust="spacingAndGlyphs" transform="translate(15.6,523.5) rotate(-90)">VAF in peripheral blood</text>
<line x1="49.4" y1="582" x2="114.3" y2="582" stroke="#111" stroke-width="1.4"/>
<line x1="50" y1="582" x2="50" y2="585" stroke="#111" stroke-width="1.15"/>
<text x="50" y="594.8" font-size="8" text-anchor="middle" fill="#222" stroke="#222" stroke-width="0.22" textLength="4.09" lengthAdjust="spacingAndGlyphs">0</text>
<line x1="70.33" y1="582" x2="70.33" y2="585" stroke="#111" stroke-width="1.15"/>
<text x="70.33" y="594.8" font-size="8" text-anchor="middle" fill="#222" stroke="#222" stroke-width="0.22" textLength="8.18" lengthAdjust="spacingAndGlyphs">50</text>
<line x1="90.67" y1="582" x2="90.67" y2="585" stroke="#111" stroke-width="1.15"/>
<text x="90.67" y="594.8" font-size="8" text-anchor="middle" fill="#222" stroke="#222" stroke-width="0.22" textLength="12.26" lengthAdjust="spacingAndGlyphs">100</text>
<line x1="111" y1="582" x2="111" y2="585" stroke="#111" stroke-width="1.15"/>
<text x="111" y="594.8" font-size="8" text-anchor="middle" fill="#222" stroke="#222" stroke-width="0.22" textLength="12.26" lengthAdjust="spacingAndGlyphs">150</text>
<text x="75.2" y="607.7" font-size="10.2" text-anchor="middle" fill="#222" stroke="#222" stroke-width="0.3" textLength="18.5" lengthAdjust="spacingAndGlyphs">Days</text>
<polyline points="49.8,533.3 61.3,540.3 94,566" fill="none" stroke="#b5a24a" stroke-width="2" stroke-linejoin="round" stroke-linecap="round"/>
<circle cx="49.8" cy="533.3" r="1.65" fill="#b5a24a"/>
<circle cx="61.3" cy="540.3" r="1.65" fill="#b5a24a"/>
<circle cx="94" cy="566" r="1.65" fill="#b5a24a"/>
<polyline points="95,568" fill="none" stroke="#f2a032" stroke-width="2" stroke-linejoin="round" stroke-linecap="round"/>
<circle cx="95" cy="568" r="1.65" fill="#f2a032"/>
<polyline points="49.8,533.6 61.3,540.8 94.2,565.6" fill="none" stroke="#1e2f52" stroke-width="2" stroke-linejoin="round" stroke-linecap="round"/>
<circle cx="49.8" cy="533.6" r="1.65" fill="#1e2f52"/>
<circle cx="61.3" cy="540.8" r="1.65" fill="#1e2f52"/>
<circle cx="94.2" cy="565.6" r="1.65" fill="#1e2f52"/>
<polyline points="49.8,517.8 61.3,526.1 94.7,567.7" fill="none" stroke="#8e0c33" stroke-width="2" stroke-linejoin="round" stroke-linecap="round"/>
<circle cx="49.8" cy="517.8" r="1.65" fill="#8e0c33"/>
<circle cx="61.3" cy="526.1" r="1.65" fill="#8e0c33"/>
<circle cx="94.7" cy="567.7" r="1.65" fill="#8e0c33"/>
<text x="60.1" y="518.2" font-size="5.45" font-style="italic" fill="#333" stroke="#333" stroke-width="0.16">TP53*</text>
<text x="100.9" y="569" font-size="5.45" font-style="italic" fill="#333" stroke="#333" stroke-width="0.16">MLL3</text>
<text x="100.9" y="575.8" font-size="5.45" font-style="italic" fill="#333" stroke="#333" stroke-width="0.16">PTPRT</text>
<line x1="163.3" y1="470.9" x2="163.3" y2="571.4" stroke="#111" stroke-width="1.3"/>
<line x1="160.3" y1="570.9" x2="163.3" y2="570.9" stroke="#111" stroke-width="1.15"/>
<text x="157.3" y="573.6" font-size="8" text-anchor="end" fill="#222" stroke="#222" stroke-width="0.22" textLength="4.09" lengthAdjust="spacingAndGlyphs">0</text>
<line x1="160.3" y1="551.54" x2="163.3" y2="551.54" stroke="#111" stroke-width="1.15"/>
<text x="157.3" y="554.24" font-size="8" text-anchor="end" fill="#222" stroke="#222" stroke-width="0.22" textLength="8.18" lengthAdjust="spacingAndGlyphs">20</text>
<line x1="160.3" y1="532.18" x2="163.3" y2="532.18" stroke="#111" stroke-width="1.15"/>
<text x="157.3" y="534.88" font-size="8" text-anchor="end" fill="#222" stroke="#222" stroke-width="0.22" textLength="8.18" lengthAdjust="spacingAndGlyphs">40</text>
<line x1="160.3" y1="512.82" x2="163.3" y2="512.82" stroke="#111" stroke-width="1.15"/>
<text x="157.3" y="515.52" font-size="8" text-anchor="end" fill="#222" stroke="#222" stroke-width="0.22" textLength="8.18" lengthAdjust="spacingAndGlyphs">60</text>
<line x1="160.3" y1="493.46" x2="163.3" y2="493.46" stroke="#111" stroke-width="1.15"/>
<text x="157.3" y="496.16" font-size="8" text-anchor="end" fill="#222" stroke="#222" stroke-width="0.22" textLength="8.18" lengthAdjust="spacingAndGlyphs">80</text>
<line x1="160.3" y1="474.1" x2="163.3" y2="474.1" stroke="#111" stroke-width="1.15"/>
<text x="157.3" y="476.8" font-size="8" text-anchor="end" fill="#222" stroke="#222" stroke-width="0.22" textLength="12.26" lengthAdjust="spacingAndGlyphs">100</text>
<text x="0" y="0" font-size="9.9" text-anchor="middle" fill="#222" stroke="#222" stroke-width="0.25" textLength="76.6" lengthAdjust="spacingAndGlyphs" transform="translate(139.6,523) rotate(-90)">VAF in bone marrow</text>
<line x1="173.4" y1="582" x2="237.9" y2="582" stroke="#111" stroke-width="1.4"/>
<line x1="174" y1="582" x2="174" y2="585" stroke="#111" stroke-width="1.15"/>
<text x="174" y="594.8" font-size="8" text-anchor="middle" fill="#222" stroke="#222" stroke-width="0.22" textLength="4.09" lengthAdjust="spacingAndGlyphs">0</text>
<line x1="194.2" y1="582" x2="194.2" y2="585" stroke="#111" stroke-width="1.15"/>
<text x="194.2" y="594.8" font-size="8" text-anchor="middle" fill="#222" stroke="#222" stroke-width="0.22" textLength="8.18" lengthAdjust="spacingAndGlyphs">50</text>
<line x1="214.4" y1="582" x2="214.4" y2="585" stroke="#111" stroke-width="1.15"/>
<text x="214.4" y="594.8" font-size="8" text-anchor="middle" fill="#222" stroke="#222" stroke-width="0.22" textLength="12.26" lengthAdjust="spacingAndGlyphs">100</text>
<line x1="234.6" y1="582" x2="234.6" y2="585" stroke="#111" stroke-width="1.15"/>
<text x="234.6" y="594.8" font-size="8" text-anchor="middle" fill="#222" stroke="#222" stroke-width="0.22" textLength="12.26" lengthAdjust="spacingAndGlyphs">150</text>
<text x="199" y="607.6" font-size="10.2" text-anchor="middle" fill="#222" stroke="#222" stroke-width="0.3" textLength="18.5" lengthAdjust="spacingAndGlyphs">Days</text>
<polyline points="173.8,529.1 185.2,541.3 219.2,568" fill="none" stroke="#b5a24a" stroke-width="2" stroke-linejoin="round" stroke-linecap="round"/>
<circle cx="173.8" cy="529.1" r="1.65" fill="#b5a24a"/>
<circle cx="185.2" cy="541.3" r="1.65" fill="#b5a24a"/>
<circle cx="219.2" cy="568" r="1.65" fill="#b5a24a"/>
<polyline points="173.8,529.6 185.3,541.1 219.2,568" fill="none" stroke="#1e2f52" stroke-width="2" stroke-linejoin="round" stroke-linecap="round"/>
<circle cx="173.8" cy="529.6" r="1.65" fill="#1e2f52"/>
<circle cx="185.3" cy="541.1" r="1.65" fill="#1e2f52"/>
<circle cx="219.2" cy="568" r="1.65" fill="#1e2f52"/>
<polyline points="173.8,501.9 185.3,520.5 219.2,568.6" fill="none" stroke="#8e0c33" stroke-width="2" stroke-linejoin="round" stroke-linecap="round"/>
<circle cx="173.8" cy="501.9" r="1.65" fill="#8e0c33"/>
<circle cx="185.3" cy="520.5" r="1.65" fill="#8e0c33"/>
<circle cx="219.2" cy="568.6" r="1.65" fill="#8e0c33"/>
<text x="185.7" y="514.8" font-size="5.45" font-style="italic" fill="#333" stroke="#333" stroke-width="0.16">TP53*</text>
<text x="227.3" y="566" font-size="5.45" font-style="italic" fill="#333" stroke="#333" stroke-width="0.16">MLL3</text>
<text x="226.7" y="574" font-size="5.45" font-style="italic" fill="#333" stroke="#333" stroke-width="0.16">PTPRT</text>
<line x1="290.2" y1="471.7" x2="290.2" y2="571.3" stroke="#111" stroke-width="1.3"/>
<line x1="287.2" y1="570.8" x2="290.2" y2="570.8" stroke="#111" stroke-width="1.15"/>
<text x="284.2" y="573.5" font-size="8" text-anchor="end" fill="#222" stroke="#222" stroke-width="0.22" textLength="4.09" lengthAdjust="spacingAndGlyphs">0</text>
<line x1="287.2" y1="551.62" x2="290.2" y2="551.62" stroke="#111" stroke-width="1.15"/>
<text x="284.2" y="554.32" font-size="8" text-anchor="end" fill="#222" stroke="#222" stroke-width="0.22" textLength="8.18" lengthAdjust="spacingAndGlyphs">20</text>
<line x1="287.2" y1="532.44" x2="290.2" y2="532.44" stroke="#111" stroke-width="1.15"/>
<text x="284.2" y="535.14" font-size="8" text-anchor="end" fill="#222" stroke="#222" stroke-width="0.22" textLength="8.18" lengthAdjust="spacingAndGlyphs">40</text>
<line x1="287.2" y1="513.26" x2="290.2" y2="513.26" stroke="#111" stroke-width="1.15"/>
<text x="284.2" y="515.96" font-size="8" text-anchor="end" fill="#222" stroke="#222" stroke-width="0.22" textLength="8.18" lengthAdjust="spacingAndGlyphs">60</text>
<line x1="287.2" y1="494.08" x2="290.2" y2="494.08" stroke="#111" stroke-width="1.15"/>
<text x="284.2" y="496.78" font-size="8" text-anchor="end" fill="#222" stroke="#222" stroke-width="0.22" textLength="8.18" lengthAdjust="spacingAndGlyphs">80</text>
<line x1="287.2" y1="474.9" x2="290.2" y2="474.9" stroke="#111" stroke-width="1.15"/>
<text x="284.2" y="477.6" font-size="8" text-anchor="end" fill="#222" stroke="#222" stroke-width="0.22" textLength="12.26" lengthAdjust="spacingAndGlyphs">100</text>
<text x="0" y="0" font-size="9.9" text-anchor="middle" fill="#222" stroke="#222" stroke-width="0.25" textLength="88.3" lengthAdjust="spacingAndGlyphs" transform="translate(266.5,523.95) rotate(-90)">VAF in peripheral blood</text>
<line x1="300.7" y1="582.3" x2="365.2" y2="582.3" stroke="#111" stroke-width="1.4"/>
<line x1="301.3" y1="582.3" x2="301.3" y2="585.3" stroke="#111" stroke-width="1.15"/>
<text x="301.3" y="595.1" font-size="8" text-anchor="middle" fill="#222" stroke="#222" stroke-width="0.22" textLength="4.09" lengthAdjust="spacingAndGlyphs">0</text>
<line x1="313.42" y1="582.3" x2="313.42" y2="585.3" stroke="#111" stroke-width="1.15"/>
<text x="313.42" y="595.1" font-size="8" text-anchor="middle" fill="#222" stroke="#222" stroke-width="0.22" textLength="8.18" lengthAdjust="spacingAndGlyphs">20</text>
<line x1="325.54" y1="582.3" x2="325.54" y2="585.3" stroke="#111" stroke-width="1.15"/>
<text x="325.54" y="595.1" font-size="8" text-anchor="middle" fill="#222" stroke="#222" stroke-width="0.22" textLength="8.18" lengthAdjust="spacingAndGlyphs">40</text>
<line x1="337.66" y1="582.3" x2="337.66" y2="585.3" stroke="#111" stroke-width="1.15"/>
<text x="337.66" y="595.1" font-size="8" text-anchor="middle" fill="#222" stroke="#222" stroke-width="0.22" textLength="8.18" lengthAdjust="spacingAndGlyphs">60</text>
<line x1="349.78" y1="582.3" x2="349.78" y2="585.3" stroke="#111" stroke-width="1.15"/>
<text x="349.78" y="595.1" font-size="8" text-anchor="middle" fill="#222" stroke="#222" stroke-width="0.22" textLength="8.18" lengthAdjust="spacingAndGlyphs">80</text>
<line x1="361.9" y1="582.3" x2="361.9" y2="585.3" stroke="#111" stroke-width="1.15"/>
<text x="361.9" y="595.1" font-size="8" text-anchor="middle" fill="#222" stroke="#222" stroke-width="0.22" textLength="12.26" lengthAdjust="spacingAndGlyphs">100</text>
<text x="326" y="607.6" font-size="10.2" text-anchor="middle" fill="#222" stroke="#222" stroke-width="0.3" textLength="18.5" lengthAdjust="spacingAndGlyphs">Days</text>
<polyline points="301,567.1 318.3,563.2 335,570.6 352.2,570.6" fill="none" stroke="#1e2f52" stroke-width="2" stroke-linejoin="round" stroke-linecap="round"/>
<circle cx="301" cy="567.1" r="1.65" fill="#1e2f52"/>
<circle cx="318.3" cy="563.2" r="1.65" fill="#1e2f52"/>
<circle cx="335" cy="570.6" r="1.65" fill="#1e2f52"/>
<circle cx="352.2" cy="570.6" r="1.65" fill="#1e2f52"/>
<polyline points="301.2,520.3 318,519 334.8,570.6" fill="none" stroke="#322a52" stroke-width="2" stroke-linejoin="round" stroke-linecap="round"/>
<circle cx="301.2" cy="520.3" r="1.65" fill="#322a52"/>
<circle cx="318" cy="519" r="1.65" fill="#322a52"/>
<circle cx="334.8" cy="570.6" r="1.65" fill="#322a52"/>
<polyline points="301,505.5 318.3,506.3 335,570.6 352.2,570.6" fill="none" stroke="#8e0c33" stroke-width="2" stroke-linejoin="round" stroke-linecap="round"/>
<circle cx="301" cy="505.5" r="1.65" fill="#8e0c33"/>
<circle cx="318.3" cy="506.3" r="1.65" fill="#8e0c33"/>
<circle cx="335" cy="570.6" r="1.65" fill="#8e0c33"/>
<circle cx="352.2" cy="570.6" r="1.65" fill="#8e0c33"/>
<text x="306.8" y="503" font-size="5.45" font-style="italic" fill="#333" stroke="#333" stroke-width="0.16">TP53*</text>
<text x="295.9" y="517.6" font-size="5.45" font-style="italic" fill="#333" stroke="#333" stroke-width="0.16">MYO5B*</text>
<text x="301" y="558.7" font-size="5.45" font-style="italic" fill="#333" stroke="#333" stroke-width="0.16">KDM6A</text>
<line x1="418.6" y1="471" x2="418.6" y2="571.3" stroke="#111" stroke-width="1.3"/>
<line x1="415.6" y1="570.8" x2="418.6" y2="570.8" stroke="#111" stroke-width="1.15"/>
<text x="412.6" y="573.5" font-size="8" text-anchor="end" fill="#222" stroke="#222" stroke-width="0.22" textLength="4.09" lengthAdjust="spacingAndGlyphs">0</text>
<line x1="415.6" y1="551.48" x2="418.6" y2="551.48" stroke="#111" stroke-width="1.15"/>
<text x="412.6" y="554.18" font-size="8" text-anchor="end" fill="#222" stroke="#222" stroke-width="0.22" textLength="8.18" lengthAdjust="spacingAndGlyphs">20</text>
<line x1="415.6" y1="532.16" x2="418.6" y2="532.16" stroke="#111" stroke-width="1.15"/>
<text x="412.6" y="534.86" font-size="8" text-anchor="end" fill="#222" stroke="#222" stroke-width="0.22" textLength="8.18" lengthAdjust="spacingAndGlyphs">40</text>
<line x1="415.6" y1="512.84" x2="418.6" y2="512.84" stroke="#111" stroke-width="1.15"/>
<text x="412.6" y="515.54" font-size="8" text-anchor="end" fill="#222" stroke="#222" stroke-width="0.22" textLength="8.18" lengthAdjust="spacingAndGlyphs">60</text>
<line x1="415.6" y1="493.52" x2="418.6" y2="493.52" stroke="#111" stroke-width="1.15"/>
<text x="412.6" y="496.22" font-size="8" text-anchor="end" fill="#222" stroke="#222" stroke-width="0.22" textLength="8.18" lengthAdjust="spacingAndGlyphs">80</text>
<line x1="415.6" y1="474.2" x2="418.6" y2="474.2" stroke="#111" stroke-width="1.15"/>
<text x="412.6" y="476.9" font-size="8" text-anchor="end" fill="#222" stroke="#222" stroke-width="0.22" textLength="12.26" lengthAdjust="spacingAndGlyphs">100</text>
<text x="0" y="0" font-size="9.9" text-anchor="middle" fill="#222" stroke="#222" stroke-width="0.25" textLength="76.6" lengthAdjust="spacingAndGlyphs" transform="translate(394.9,523) rotate(-90)">VAF in bone marrow</text>
<line x1="428.6" y1="582" x2="494.1" y2="582" stroke="#111" stroke-width="1.4"/>
<line x1="429.2" y1="582" x2="429.2" y2="585" stroke="#111" stroke-width="1.15"/>
<text x="429.2" y="594.8" font-size="8" text-anchor="middle" fill="#222" stroke="#222" stroke-width="0.22" textLength="4.09" lengthAdjust="spacingAndGlyphs">0</text>
<line x1="441.52" y1="582" x2="441.52" y2="585" stroke="#111" stroke-width="1.15"/>
<text x="441.52" y="594.8" font-size="8" text-anchor="middle" fill="#222" stroke="#222" stroke-width="0.22" textLength="8.18" lengthAdjust="spacingAndGlyphs">20</text>
<line x1="453.84" y1="582" x2="453.84" y2="585" stroke="#111" stroke-width="1.15"/>
<text x="453.84" y="594.8" font-size="8" text-anchor="middle" fill="#222" stroke="#222" stroke-width="0.22" textLength="8.18" lengthAdjust="spacingAndGlyphs">40</text>
<line x1="466.16" y1="582" x2="466.16" y2="585" stroke="#111" stroke-width="1.15"/>
<text x="466.16" y="594.8" font-size="8" text-anchor="middle" fill="#222" stroke="#222" stroke-width="0.22" textLength="8.18" lengthAdjust="spacingAndGlyphs">60</text>
<line x1="478.48" y1="582" x2="478.48" y2="585" stroke="#111" stroke-width="1.15"/>
<text x="478.48" y="594.8" font-size="8" text-anchor="middle" fill="#222" stroke="#222" stroke-width="0.22" textLength="8.18" lengthAdjust="spacingAndGlyphs">80</text>
<line x1="490.8" y1="582" x2="490.8" y2="585" stroke="#111" stroke-width="1.15"/>
<text x="490.8" y="594.8" font-size="8" text-anchor="middle" fill="#222" stroke="#222" stroke-width="0.22" textLength="12.26" lengthAdjust="spacingAndGlyphs">100</text>
<text x="454.2" y="607.6" font-size="10.2" text-anchor="middle" fill="#222" stroke="#222" stroke-width="0.3" textLength="18.5" lengthAdjust="spacingAndGlyphs">Days</text>
<polyline points="429.4,565.1 446.5,564.6 462.8,570.6 480.3,570.6" fill="none" stroke="#1e2f52" stroke-width="2" stroke-linejoin="round" stroke-linecap="round"/>
<circle cx="429.4" cy="565.1" r="1.65" fill="#1e2f52"/>
<circle cx="446.5" cy="564.6" r="1.65" fill="#1e2f52"/>
<circle cx="462.8" cy="570.6" r="1.65" fill="#1e2f52"/>
<circle cx="480.3" cy="570.6" r="1.65" fill="#1e2f52"/>
<polyline points="429.4,491.7 446.5,530.2 462.8,570.6" fill="none" stroke="#322a52" stroke-width="2" stroke-linejoin="round" stroke-linecap="round"/>
<circle cx="429.4" cy="491.7" r="1.65" fill="#322a52"/>
<circle cx="446.5" cy="530.2" r="1.65" fill="#322a52"/>
<circle cx="462.8" cy="570.6" r="1.65" fill="#322a52"/>
<polyline points="429.4,484.6 446.5,505.9 462.8,570.3 480.3,570.6" fill="none" stroke="#8e0c33" stroke-width="2" stroke-linejoin="round" stroke-linecap="round"/>
<circle cx="429.4" cy="484.6" r="1.65" fill="#8e0c33"/>
<circle cx="446.5" cy="505.9" r="1.65" fill="#8e0c33"/>
<circle cx="462.8" cy="570.3" r="1.65" fill="#8e0c33"/>
<circle cx="480.3" cy="570.6" r="1.65" fill="#8e0c33"/>
<text x="438.7" y="493.7" font-size="5.45" font-style="italic" fill="#333" stroke="#333" stroke-width="0.16">TP53*</text>
<text x="419.3" y="525" font-size="5.45" font-style="italic" fill="#333" stroke="#333" stroke-width="0.16">MYO5B*</text>
<text x="429" y="559.7" font-size="5.45" font-style="italic" fill="#333" stroke="#333" stroke-width="0.16">KDM6A</text>
</svg></body></html>
